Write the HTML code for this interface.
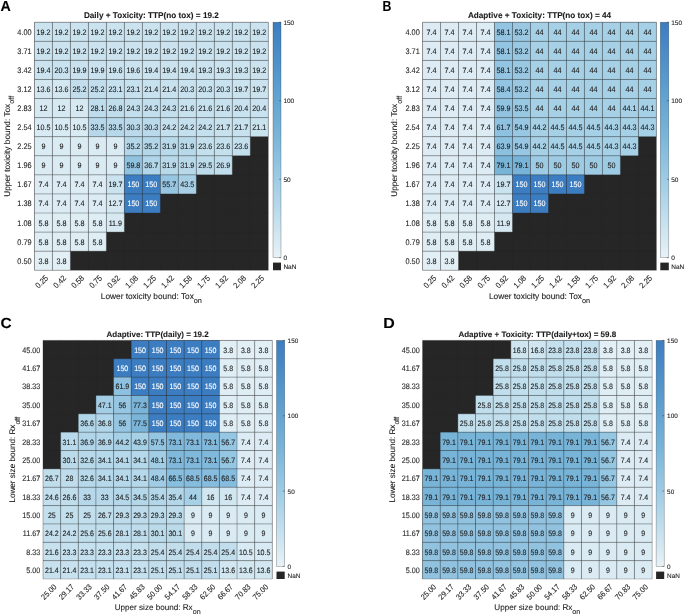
<!DOCTYPE html>
<html><head><meta charset="utf-8"><title>Heatmaps</title>
<style>html,body{margin:0;padding:0;background:#fff;}body{width:685px;height:615px;overflow:hidden;font-family:"Liberation Sans",sans-serif;}svg{display:block;will-change:transform;filter:blur(0.3px);}text{stroke-width:0.1px;}</style></head>
<body>
<svg width="685" height="615" viewBox="0 0 685 615" font-family="Liberation Sans, sans-serif" text-rendering="geometricPrecision">
<defs><linearGradient id="cb" x1="0" y1="0" x2="0" y2="1"><stop offset="0.000" stop-color="#3c7dc1"/><stop offset="0.250" stop-color="#579bce"/><stop offset="0.473" stop-color="#78b4d8"/><stop offset="0.601" stop-color="#91c3e1"/><stop offset="0.707" stop-color="#a6d0e6"/><stop offset="0.872" stop-color="#cbe3ef"/><stop offset="1.000" stop-color="#e8f2f7"/></linearGradient></defs>
<text transform="translate(0.6,11) scale(0.98,1)" font-size="14.6" font-weight="bold" fill="#000" stroke="#000">A</text>
<text x="151.37" y="18.43" font-size="8.2" font-weight="bold" fill="#1c1c1c" stroke="#1c1c1c" text-anchor="middle">Daily + Toxicity: TTP(no tox) = 19.2</text>
<rect x="34.44" y="22.23" width="233.86" height="248.02" fill="#262626"/>
<rect x="34.44" y="22.23" width="17.99" height="19.08" fill="#cbe3ef"/>
<rect x="52.43" y="22.23" width="17.99" height="19.08" fill="#cbe3ef"/>
<rect x="70.42" y="22.23" width="17.99" height="19.08" fill="#cbe3ef"/>
<rect x="88.41" y="22.23" width="17.99" height="19.08" fill="#cbe3ef"/>
<rect x="106.40" y="22.23" width="17.99" height="19.08" fill="#cbe3ef"/>
<rect x="124.39" y="22.23" width="17.99" height="19.08" fill="#cbe3ef"/>
<rect x="142.38" y="22.23" width="17.99" height="19.08" fill="#cbe3ef"/>
<rect x="160.36" y="22.23" width="17.99" height="19.08" fill="#cbe3ef"/>
<rect x="178.35" y="22.23" width="17.99" height="19.08" fill="#cbe3ef"/>
<rect x="196.34" y="22.23" width="17.99" height="19.08" fill="#cbe3ef"/>
<rect x="214.33" y="22.23" width="17.99" height="19.08" fill="#cbe3ef"/>
<rect x="232.32" y="22.23" width="17.99" height="19.08" fill="#cbe3ef"/>
<rect x="250.31" y="22.23" width="17.99" height="19.08" fill="#cbe3ef"/>
<rect x="34.44" y="41.31" width="17.99" height="19.08" fill="#cbe3ef"/>
<rect x="52.43" y="41.31" width="17.99" height="19.08" fill="#cbe3ef"/>
<rect x="70.42" y="41.31" width="17.99" height="19.08" fill="#cbe3ef"/>
<rect x="88.41" y="41.31" width="17.99" height="19.08" fill="#cbe3ef"/>
<rect x="106.40" y="41.31" width="17.99" height="19.08" fill="#cbe3ef"/>
<rect x="124.39" y="41.31" width="17.99" height="19.08" fill="#cbe3ef"/>
<rect x="142.38" y="41.31" width="17.99" height="19.08" fill="#cbe3ef"/>
<rect x="160.36" y="41.31" width="17.99" height="19.08" fill="#cbe3ef"/>
<rect x="178.35" y="41.31" width="17.99" height="19.08" fill="#cbe3ef"/>
<rect x="196.34" y="41.31" width="17.99" height="19.08" fill="#cbe3ef"/>
<rect x="214.33" y="41.31" width="17.99" height="19.08" fill="#cbe3ef"/>
<rect x="232.32" y="41.31" width="17.99" height="19.08" fill="#cbe3ef"/>
<rect x="250.31" y="41.31" width="17.99" height="19.08" fill="#cbe3ef"/>
<rect x="34.44" y="60.39" width="17.99" height="19.08" fill="#cbe3ef"/>
<rect x="52.43" y="60.39" width="17.99" height="19.08" fill="#c9e2ef"/>
<rect x="70.42" y="60.39" width="17.99" height="19.08" fill="#cae2ef"/>
<rect x="88.41" y="60.39" width="17.99" height="19.08" fill="#cae2ef"/>
<rect x="106.40" y="60.39" width="17.99" height="19.08" fill="#cae3ef"/>
<rect x="124.39" y="60.39" width="17.99" height="19.08" fill="#cae3ef"/>
<rect x="142.38" y="60.39" width="17.99" height="19.08" fill="#cbe3ef"/>
<rect x="160.36" y="60.39" width="17.99" height="19.08" fill="#cbe3ef"/>
<rect x="178.35" y="60.39" width="17.99" height="19.08" fill="#cbe3ef"/>
<rect x="196.34" y="60.39" width="17.99" height="19.08" fill="#cbe3ef"/>
<rect x="214.33" y="60.39" width="17.99" height="19.08" fill="#cbe3ef"/>
<rect x="232.32" y="60.39" width="17.99" height="19.08" fill="#cbe3ef"/>
<rect x="250.31" y="60.39" width="17.99" height="19.08" fill="#cbe3ef"/>
<rect x="34.44" y="79.47" width="17.99" height="19.08" fill="#d3e7f1"/>
<rect x="52.43" y="79.47" width="17.99" height="19.08" fill="#d3e7f1"/>
<rect x="70.42" y="79.47" width="17.99" height="19.08" fill="#c2deed"/>
<rect x="88.41" y="79.47" width="17.99" height="19.08" fill="#c2deed"/>
<rect x="106.40" y="79.47" width="17.99" height="19.08" fill="#c5e0ee"/>
<rect x="124.39" y="79.47" width="17.99" height="19.08" fill="#c5e0ee"/>
<rect x="142.38" y="79.47" width="17.99" height="19.08" fill="#c8e1ee"/>
<rect x="160.36" y="79.47" width="17.99" height="19.08" fill="#c8e1ee"/>
<rect x="178.35" y="79.47" width="17.99" height="19.08" fill="#c9e2ef"/>
<rect x="196.34" y="79.47" width="17.99" height="19.08" fill="#c9e2ef"/>
<rect x="214.33" y="79.47" width="17.99" height="19.08" fill="#c9e2ef"/>
<rect x="232.32" y="79.47" width="17.99" height="19.08" fill="#cae3ef"/>
<rect x="250.31" y="79.47" width="17.99" height="19.08" fill="#cae3ef"/>
<rect x="34.44" y="98.54" width="17.99" height="19.08" fill="#d6e9f2"/>
<rect x="52.43" y="98.54" width="17.99" height="19.08" fill="#d6e9f2"/>
<rect x="70.42" y="98.54" width="17.99" height="19.08" fill="#d6e9f2"/>
<rect x="88.41" y="98.54" width="17.99" height="19.08" fill="#bedcec"/>
<rect x="106.40" y="98.54" width="17.99" height="19.08" fill="#c0ddec"/>
<rect x="124.39" y="98.54" width="17.99" height="19.08" fill="#c3dfed"/>
<rect x="142.38" y="98.54" width="17.99" height="19.08" fill="#c3dfed"/>
<rect x="160.36" y="98.54" width="17.99" height="19.08" fill="#c3dfed"/>
<rect x="178.35" y="98.54" width="17.99" height="19.08" fill="#c7e1ee"/>
<rect x="196.34" y="98.54" width="17.99" height="19.08" fill="#c7e1ee"/>
<rect x="214.33" y="98.54" width="17.99" height="19.08" fill="#c7e1ee"/>
<rect x="232.32" y="98.54" width="17.99" height="19.08" fill="#c9e2ef"/>
<rect x="250.31" y="98.54" width="17.99" height="19.08" fill="#c9e2ef"/>
<rect x="34.44" y="117.62" width="17.99" height="19.08" fill="#d8eaf3"/>
<rect x="52.43" y="117.62" width="17.99" height="19.08" fill="#d8eaf3"/>
<rect x="70.42" y="117.62" width="17.99" height="19.08" fill="#d8eaf3"/>
<rect x="88.41" y="117.62" width="17.99" height="19.08" fill="#b6d8ea"/>
<rect x="106.40" y="117.62" width="17.99" height="19.08" fill="#b6d8ea"/>
<rect x="124.39" y="117.62" width="17.99" height="19.08" fill="#badaeb"/>
<rect x="142.38" y="117.62" width="17.99" height="19.08" fill="#badaeb"/>
<rect x="160.36" y="117.62" width="17.99" height="19.08" fill="#c4dfed"/>
<rect x="178.35" y="117.62" width="17.99" height="19.08" fill="#c4dfed"/>
<rect x="196.34" y="117.62" width="17.99" height="19.08" fill="#c4dfed"/>
<rect x="214.33" y="117.62" width="17.99" height="19.08" fill="#c7e1ee"/>
<rect x="232.32" y="117.62" width="17.99" height="19.08" fill="#c7e1ee"/>
<rect x="250.31" y="117.62" width="17.99" height="19.08" fill="#c8e2ee"/>
<rect x="34.44" y="136.70" width="17.99" height="19.08" fill="#daebf3"/>
<rect x="52.43" y="136.70" width="17.99" height="19.08" fill="#daebf3"/>
<rect x="70.42" y="136.70" width="17.99" height="19.08" fill="#daebf3"/>
<rect x="88.41" y="136.70" width="17.99" height="19.08" fill="#daebf3"/>
<rect x="106.40" y="136.70" width="17.99" height="19.08" fill="#daebf3"/>
<rect x="124.39" y="136.70" width="17.99" height="19.08" fill="#b3d7e9"/>
<rect x="142.38" y="136.70" width="17.99" height="19.08" fill="#b3d7e9"/>
<rect x="160.36" y="136.70" width="17.99" height="19.08" fill="#b8d9ea"/>
<rect x="178.35" y="136.70" width="17.99" height="19.08" fill="#b8d9ea"/>
<rect x="196.34" y="136.70" width="17.99" height="19.08" fill="#c4e0ed"/>
<rect x="214.33" y="136.70" width="17.99" height="19.08" fill="#c4e0ed"/>
<rect x="232.32" y="136.70" width="17.99" height="19.08" fill="#c4e0ed"/>
<rect x="34.44" y="155.78" width="17.99" height="19.08" fill="#daebf3"/>
<rect x="52.43" y="155.78" width="17.99" height="19.08" fill="#daebf3"/>
<rect x="70.42" y="155.78" width="17.99" height="19.08" fill="#daebf3"/>
<rect x="88.41" y="155.78" width="17.99" height="19.08" fill="#daebf3"/>
<rect x="106.40" y="155.78" width="17.99" height="19.08" fill="#daebf3"/>
<rect x="124.39" y="155.78" width="17.99" height="19.08" fill="#91c3e1"/>
<rect x="142.38" y="155.78" width="17.99" height="19.08" fill="#b1d6e9"/>
<rect x="160.36" y="155.78" width="17.99" height="19.08" fill="#b8d9ea"/>
<rect x="178.35" y="155.78" width="17.99" height="19.08" fill="#b8d9ea"/>
<rect x="196.34" y="155.78" width="17.99" height="19.08" fill="#bcdbeb"/>
<rect x="214.33" y="155.78" width="17.99" height="19.08" fill="#bfddec"/>
<rect x="34.44" y="174.86" width="17.99" height="19.08" fill="#ddecf4"/>
<rect x="52.43" y="174.86" width="17.99" height="19.08" fill="#ddecf4"/>
<rect x="70.42" y="174.86" width="17.99" height="19.08" fill="#ddecf4"/>
<rect x="88.41" y="174.86" width="17.99" height="19.08" fill="#ddecf4"/>
<rect x="106.40" y="174.86" width="17.99" height="19.08" fill="#cae3ef"/>
<rect x="124.39" y="174.86" width="17.99" height="19.08" fill="#3c7dc1"/>
<rect x="142.38" y="174.86" width="17.99" height="19.08" fill="#3c7dc1"/>
<rect x="160.36" y="174.86" width="17.99" height="19.08" fill="#96c6e2"/>
<rect x="178.35" y="174.86" width="17.99" height="19.08" fill="#a7d0e6"/>
<rect x="34.44" y="193.94" width="17.99" height="19.08" fill="#ddecf4"/>
<rect x="52.43" y="193.94" width="17.99" height="19.08" fill="#ddecf4"/>
<rect x="70.42" y="193.94" width="17.99" height="19.08" fill="#ddecf4"/>
<rect x="88.41" y="193.94" width="17.99" height="19.08" fill="#ddecf4"/>
<rect x="106.40" y="193.94" width="17.99" height="19.08" fill="#d5e8f2"/>
<rect x="124.39" y="193.94" width="17.99" height="19.08" fill="#3c7dc1"/>
<rect x="142.38" y="193.94" width="17.99" height="19.08" fill="#3c7dc1"/>
<rect x="34.44" y="213.01" width="17.99" height="19.08" fill="#dfedf5"/>
<rect x="52.43" y="213.01" width="17.99" height="19.08" fill="#dfedf5"/>
<rect x="70.42" y="213.01" width="17.99" height="19.08" fill="#dfedf5"/>
<rect x="88.41" y="213.01" width="17.99" height="19.08" fill="#dfedf5"/>
<rect x="106.40" y="213.01" width="17.99" height="19.08" fill="#d6e9f2"/>
<rect x="34.44" y="232.09" width="17.99" height="19.08" fill="#dfedf5"/>
<rect x="52.43" y="232.09" width="17.99" height="19.08" fill="#dfedf5"/>
<rect x="70.42" y="232.09" width="17.99" height="19.08" fill="#dfedf5"/>
<rect x="88.41" y="232.09" width="17.99" height="19.08" fill="#dfedf5"/>
<rect x="34.44" y="251.17" width="17.99" height="19.08" fill="#e2eff5"/>
<rect x="52.43" y="251.17" width="17.99" height="19.08" fill="#e2eff5"/>
<line x1="34.44" x2="34.44" y1="22.23" y2="270.25" stroke="rgba(38,38,38,0.55)" stroke-width="0.6"/>
<line x1="34.44" x2="268.30" y1="22.23" y2="22.23" stroke="rgba(38,38,38,0.55)" stroke-width="0.6"/>
<line x1="52.43" x2="52.43" y1="22.23" y2="270.25" stroke="rgba(38,38,38,0.55)" stroke-width="0.6"/>
<line x1="34.44" x2="268.30" y1="41.31" y2="41.31" stroke="rgba(38,38,38,0.55)" stroke-width="0.6"/>
<line x1="70.42" x2="70.42" y1="22.23" y2="270.25" stroke="rgba(38,38,38,0.55)" stroke-width="0.6"/>
<line x1="34.44" x2="268.30" y1="60.39" y2="60.39" stroke="rgba(38,38,38,0.55)" stroke-width="0.6"/>
<line x1="88.41" x2="88.41" y1="22.23" y2="270.25" stroke="rgba(38,38,38,0.55)" stroke-width="0.6"/>
<line x1="34.44" x2="268.30" y1="79.47" y2="79.47" stroke="rgba(38,38,38,0.55)" stroke-width="0.6"/>
<line x1="106.40" x2="106.40" y1="22.23" y2="270.25" stroke="rgba(38,38,38,0.55)" stroke-width="0.6"/>
<line x1="34.44" x2="268.30" y1="98.54" y2="98.54" stroke="rgba(38,38,38,0.55)" stroke-width="0.6"/>
<line x1="124.39" x2="124.39" y1="22.23" y2="270.25" stroke="rgba(38,38,38,0.55)" stroke-width="0.6"/>
<line x1="34.44" x2="268.30" y1="117.62" y2="117.62" stroke="rgba(38,38,38,0.55)" stroke-width="0.6"/>
<line x1="142.38" x2="142.38" y1="22.23" y2="270.25" stroke="rgba(38,38,38,0.55)" stroke-width="0.6"/>
<line x1="34.44" x2="268.30" y1="136.70" y2="136.70" stroke="rgba(38,38,38,0.55)" stroke-width="0.6"/>
<line x1="160.36" x2="160.36" y1="22.23" y2="270.25" stroke="rgba(38,38,38,0.55)" stroke-width="0.6"/>
<line x1="34.44" x2="268.30" y1="155.78" y2="155.78" stroke="rgba(38,38,38,0.55)" stroke-width="0.6"/>
<line x1="178.35" x2="178.35" y1="22.23" y2="270.25" stroke="rgba(38,38,38,0.55)" stroke-width="0.6"/>
<line x1="34.44" x2="268.30" y1="174.86" y2="174.86" stroke="rgba(38,38,38,0.55)" stroke-width="0.6"/>
<line x1="196.34" x2="196.34" y1="22.23" y2="270.25" stroke="rgba(38,38,38,0.55)" stroke-width="0.6"/>
<line x1="34.44" x2="268.30" y1="193.94" y2="193.94" stroke="rgba(38,38,38,0.55)" stroke-width="0.6"/>
<line x1="214.33" x2="214.33" y1="22.23" y2="270.25" stroke="rgba(38,38,38,0.55)" stroke-width="0.6"/>
<line x1="34.44" x2="268.30" y1="213.01" y2="213.01" stroke="rgba(38,38,38,0.55)" stroke-width="0.6"/>
<line x1="232.32" x2="232.32" y1="22.23" y2="270.25" stroke="rgba(38,38,38,0.55)" stroke-width="0.6"/>
<line x1="34.44" x2="268.30" y1="232.09" y2="232.09" stroke="rgba(38,38,38,0.55)" stroke-width="0.6"/>
<line x1="250.31" x2="250.31" y1="22.23" y2="270.25" stroke="rgba(38,38,38,0.55)" stroke-width="0.6"/>
<line x1="34.44" x2="268.30" y1="251.17" y2="251.17" stroke="rgba(38,38,38,0.55)" stroke-width="0.6"/>
<line x1="268.30" x2="268.30" y1="22.23" y2="270.25" stroke="rgba(38,38,38,0.42)" stroke-width="0.6"/>
<line x1="34.44" x2="268.30" y1="270.25" y2="270.25" stroke="rgba(38,38,38,0.42)" stroke-width="0.6"/>
<text transform="translate(43.43,34.77) scale(1,1.1)" font-size="7.2" fill="#1c1c1c" stroke="#1c1c1c" text-anchor="middle">19.2</text>
<text transform="translate(61.42,34.77) scale(1,1.1)" font-size="7.2" fill="#1c1c1c" stroke="#1c1c1c" text-anchor="middle">19.2</text>
<text transform="translate(79.41,34.77) scale(1,1.1)" font-size="7.2" fill="#1c1c1c" stroke="#1c1c1c" text-anchor="middle">19.2</text>
<text transform="translate(97.40,34.77) scale(1,1.1)" font-size="7.2" fill="#1c1c1c" stroke="#1c1c1c" text-anchor="middle">19.2</text>
<text transform="translate(115.39,34.77) scale(1,1.1)" font-size="7.2" fill="#1c1c1c" stroke="#1c1c1c" text-anchor="middle">19.2</text>
<text transform="translate(133.38,34.77) scale(1,1.1)" font-size="7.2" fill="#1c1c1c" stroke="#1c1c1c" text-anchor="middle">19.2</text>
<text transform="translate(151.37,34.77) scale(1,1.1)" font-size="7.2" fill="#1c1c1c" stroke="#1c1c1c" text-anchor="middle">19.2</text>
<text transform="translate(169.36,34.77) scale(1,1.1)" font-size="7.2" fill="#1c1c1c" stroke="#1c1c1c" text-anchor="middle">19.2</text>
<text transform="translate(187.35,34.77) scale(1,1.1)" font-size="7.2" fill="#1c1c1c" stroke="#1c1c1c" text-anchor="middle">19.2</text>
<text transform="translate(205.34,34.77) scale(1,1.1)" font-size="7.2" fill="#1c1c1c" stroke="#1c1c1c" text-anchor="middle">19.2</text>
<text transform="translate(223.33,34.77) scale(1,1.1)" font-size="7.2" fill="#1c1c1c" stroke="#1c1c1c" text-anchor="middle">19.2</text>
<text transform="translate(241.32,34.77) scale(1,1.1)" font-size="7.2" fill="#1c1c1c" stroke="#1c1c1c" text-anchor="middle">19.2</text>
<text transform="translate(259.31,34.77) scale(1,1.1)" font-size="7.2" fill="#1c1c1c" stroke="#1c1c1c" text-anchor="middle">19.2</text>
<text transform="translate(43.43,53.85) scale(1,1.1)" font-size="7.2" fill="#1c1c1c" stroke="#1c1c1c" text-anchor="middle">19.2</text>
<text transform="translate(61.42,53.85) scale(1,1.1)" font-size="7.2" fill="#1c1c1c" stroke="#1c1c1c" text-anchor="middle">19.2</text>
<text transform="translate(79.41,53.85) scale(1,1.1)" font-size="7.2" fill="#1c1c1c" stroke="#1c1c1c" text-anchor="middle">19.2</text>
<text transform="translate(97.40,53.85) scale(1,1.1)" font-size="7.2" fill="#1c1c1c" stroke="#1c1c1c" text-anchor="middle">19.2</text>
<text transform="translate(115.39,53.85) scale(1,1.1)" font-size="7.2" fill="#1c1c1c" stroke="#1c1c1c" text-anchor="middle">19.2</text>
<text transform="translate(133.38,53.85) scale(1,1.1)" font-size="7.2" fill="#1c1c1c" stroke="#1c1c1c" text-anchor="middle">19.2</text>
<text transform="translate(151.37,53.85) scale(1,1.1)" font-size="7.2" fill="#1c1c1c" stroke="#1c1c1c" text-anchor="middle">19.2</text>
<text transform="translate(169.36,53.85) scale(1,1.1)" font-size="7.2" fill="#1c1c1c" stroke="#1c1c1c" text-anchor="middle">19.2</text>
<text transform="translate(187.35,53.85) scale(1,1.1)" font-size="7.2" fill="#1c1c1c" stroke="#1c1c1c" text-anchor="middle">19.2</text>
<text transform="translate(205.34,53.85) scale(1,1.1)" font-size="7.2" fill="#1c1c1c" stroke="#1c1c1c" text-anchor="middle">19.2</text>
<text transform="translate(223.33,53.85) scale(1,1.1)" font-size="7.2" fill="#1c1c1c" stroke="#1c1c1c" text-anchor="middle">19.2</text>
<text transform="translate(241.32,53.85) scale(1,1.1)" font-size="7.2" fill="#1c1c1c" stroke="#1c1c1c" text-anchor="middle">19.2</text>
<text transform="translate(259.31,53.85) scale(1,1.1)" font-size="7.2" fill="#1c1c1c" stroke="#1c1c1c" text-anchor="middle">19.2</text>
<text transform="translate(43.43,72.93) scale(1,1.1)" font-size="7.2" fill="#1c1c1c" stroke="#1c1c1c" text-anchor="middle">19.4</text>
<text transform="translate(61.42,72.93) scale(1,1.1)" font-size="7.2" fill="#1c1c1c" stroke="#1c1c1c" text-anchor="middle">20.3</text>
<text transform="translate(79.41,72.93) scale(1,1.1)" font-size="7.2" fill="#1c1c1c" stroke="#1c1c1c" text-anchor="middle">19.9</text>
<text transform="translate(97.40,72.93) scale(1,1.1)" font-size="7.2" fill="#1c1c1c" stroke="#1c1c1c" text-anchor="middle">19.9</text>
<text transform="translate(115.39,72.93) scale(1,1.1)" font-size="7.2" fill="#1c1c1c" stroke="#1c1c1c" text-anchor="middle">19.6</text>
<text transform="translate(133.38,72.93) scale(1,1.1)" font-size="7.2" fill="#1c1c1c" stroke="#1c1c1c" text-anchor="middle">19.6</text>
<text transform="translate(151.37,72.93) scale(1,1.1)" font-size="7.2" fill="#1c1c1c" stroke="#1c1c1c" text-anchor="middle">19.4</text>
<text transform="translate(169.36,72.93) scale(1,1.1)" font-size="7.2" fill="#1c1c1c" stroke="#1c1c1c" text-anchor="middle">19.4</text>
<text transform="translate(187.35,72.93) scale(1,1.1)" font-size="7.2" fill="#1c1c1c" stroke="#1c1c1c" text-anchor="middle">19.4</text>
<text transform="translate(205.34,72.93) scale(1,1.1)" font-size="7.2" fill="#1c1c1c" stroke="#1c1c1c" text-anchor="middle">19.3</text>
<text transform="translate(223.33,72.93) scale(1,1.1)" font-size="7.2" fill="#1c1c1c" stroke="#1c1c1c" text-anchor="middle">19.3</text>
<text transform="translate(241.32,72.93) scale(1,1.1)" font-size="7.2" fill="#1c1c1c" stroke="#1c1c1c" text-anchor="middle">19.3</text>
<text transform="translate(259.31,72.93) scale(1,1.1)" font-size="7.2" fill="#1c1c1c" stroke="#1c1c1c" text-anchor="middle">19.2</text>
<text transform="translate(43.43,92.00) scale(1,1.1)" font-size="7.2" fill="#1c1c1c" stroke="#1c1c1c" text-anchor="middle">13.6</text>
<text transform="translate(61.42,92.00) scale(1,1.1)" font-size="7.2" fill="#1c1c1c" stroke="#1c1c1c" text-anchor="middle">13.6</text>
<text transform="translate(79.41,92.00) scale(1,1.1)" font-size="7.2" fill="#1c1c1c" stroke="#1c1c1c" text-anchor="middle">25.2</text>
<text transform="translate(97.40,92.00) scale(1,1.1)" font-size="7.2" fill="#1c1c1c" stroke="#1c1c1c" text-anchor="middle">25.2</text>
<text transform="translate(115.39,92.00) scale(1,1.1)" font-size="7.2" fill="#1c1c1c" stroke="#1c1c1c" text-anchor="middle">23.1</text>
<text transform="translate(133.38,92.00) scale(1,1.1)" font-size="7.2" fill="#1c1c1c" stroke="#1c1c1c" text-anchor="middle">23.1</text>
<text transform="translate(151.37,92.00) scale(1,1.1)" font-size="7.2" fill="#1c1c1c" stroke="#1c1c1c" text-anchor="middle">21.4</text>
<text transform="translate(169.36,92.00) scale(1,1.1)" font-size="7.2" fill="#1c1c1c" stroke="#1c1c1c" text-anchor="middle">21.4</text>
<text transform="translate(187.35,92.00) scale(1,1.1)" font-size="7.2" fill="#1c1c1c" stroke="#1c1c1c" text-anchor="middle">20.3</text>
<text transform="translate(205.34,92.00) scale(1,1.1)" font-size="7.2" fill="#1c1c1c" stroke="#1c1c1c" text-anchor="middle">20.3</text>
<text transform="translate(223.33,92.00) scale(1,1.1)" font-size="7.2" fill="#1c1c1c" stroke="#1c1c1c" text-anchor="middle">20.3</text>
<text transform="translate(241.32,92.00) scale(1,1.1)" font-size="7.2" fill="#1c1c1c" stroke="#1c1c1c" text-anchor="middle">19.7</text>
<text transform="translate(259.31,92.00) scale(1,1.1)" font-size="7.2" fill="#1c1c1c" stroke="#1c1c1c" text-anchor="middle">19.7</text>
<text transform="translate(43.43,111.08) scale(1,1.1)" font-size="7.2" fill="#1c1c1c" stroke="#1c1c1c" text-anchor="middle">12</text>
<text transform="translate(61.42,111.08) scale(1,1.1)" font-size="7.2" fill="#1c1c1c" stroke="#1c1c1c" text-anchor="middle">12</text>
<text transform="translate(79.41,111.08) scale(1,1.1)" font-size="7.2" fill="#1c1c1c" stroke="#1c1c1c" text-anchor="middle">12</text>
<text transform="translate(97.40,111.08) scale(1,1.1)" font-size="7.2" fill="#1c1c1c" stroke="#1c1c1c" text-anchor="middle">28.1</text>
<text transform="translate(115.39,111.08) scale(1,1.1)" font-size="7.2" fill="#1c1c1c" stroke="#1c1c1c" text-anchor="middle">26.8</text>
<text transform="translate(133.38,111.08) scale(1,1.1)" font-size="7.2" fill="#1c1c1c" stroke="#1c1c1c" text-anchor="middle">24.3</text>
<text transform="translate(151.37,111.08) scale(1,1.1)" font-size="7.2" fill="#1c1c1c" stroke="#1c1c1c" text-anchor="middle">24.3</text>
<text transform="translate(169.36,111.08) scale(1,1.1)" font-size="7.2" fill="#1c1c1c" stroke="#1c1c1c" text-anchor="middle">24.3</text>
<text transform="translate(187.35,111.08) scale(1,1.1)" font-size="7.2" fill="#1c1c1c" stroke="#1c1c1c" text-anchor="middle">21.6</text>
<text transform="translate(205.34,111.08) scale(1,1.1)" font-size="7.2" fill="#1c1c1c" stroke="#1c1c1c" text-anchor="middle">21.6</text>
<text transform="translate(223.33,111.08) scale(1,1.1)" font-size="7.2" fill="#1c1c1c" stroke="#1c1c1c" text-anchor="middle">21.6</text>
<text transform="translate(241.32,111.08) scale(1,1.1)" font-size="7.2" fill="#1c1c1c" stroke="#1c1c1c" text-anchor="middle">20.4</text>
<text transform="translate(259.31,111.08) scale(1,1.1)" font-size="7.2" fill="#1c1c1c" stroke="#1c1c1c" text-anchor="middle">20.4</text>
<text transform="translate(43.43,130.16) scale(1,1.1)" font-size="7.2" fill="#1c1c1c" stroke="#1c1c1c" text-anchor="middle">10.5</text>
<text transform="translate(61.42,130.16) scale(1,1.1)" font-size="7.2" fill="#1c1c1c" stroke="#1c1c1c" text-anchor="middle">10.5</text>
<text transform="translate(79.41,130.16) scale(1,1.1)" font-size="7.2" fill="#1c1c1c" stroke="#1c1c1c" text-anchor="middle">10.5</text>
<text transform="translate(97.40,130.16) scale(1,1.1)" font-size="7.2" fill="#1c1c1c" stroke="#1c1c1c" text-anchor="middle">33.5</text>
<text transform="translate(115.39,130.16) scale(1,1.1)" font-size="7.2" fill="#1c1c1c" stroke="#1c1c1c" text-anchor="middle">33.5</text>
<text transform="translate(133.38,130.16) scale(1,1.1)" font-size="7.2" fill="#1c1c1c" stroke="#1c1c1c" text-anchor="middle">30.3</text>
<text transform="translate(151.37,130.16) scale(1,1.1)" font-size="7.2" fill="#1c1c1c" stroke="#1c1c1c" text-anchor="middle">30.3</text>
<text transform="translate(169.36,130.16) scale(1,1.1)" font-size="7.2" fill="#1c1c1c" stroke="#1c1c1c" text-anchor="middle">24.2</text>
<text transform="translate(187.35,130.16) scale(1,1.1)" font-size="7.2" fill="#1c1c1c" stroke="#1c1c1c" text-anchor="middle">24.2</text>
<text transform="translate(205.34,130.16) scale(1,1.1)" font-size="7.2" fill="#1c1c1c" stroke="#1c1c1c" text-anchor="middle">24.2</text>
<text transform="translate(223.33,130.16) scale(1,1.1)" font-size="7.2" fill="#1c1c1c" stroke="#1c1c1c" text-anchor="middle">21.7</text>
<text transform="translate(241.32,130.16) scale(1,1.1)" font-size="7.2" fill="#1c1c1c" stroke="#1c1c1c" text-anchor="middle">21.7</text>
<text transform="translate(259.31,130.16) scale(1,1.1)" font-size="7.2" fill="#1c1c1c" stroke="#1c1c1c" text-anchor="middle">21.1</text>
<text transform="translate(43.43,149.24) scale(1,1.1)" font-size="7.2" fill="#1c1c1c" stroke="#1c1c1c" text-anchor="middle">9</text>
<text transform="translate(61.42,149.24) scale(1,1.1)" font-size="7.2" fill="#1c1c1c" stroke="#1c1c1c" text-anchor="middle">9</text>
<text transform="translate(79.41,149.24) scale(1,1.1)" font-size="7.2" fill="#1c1c1c" stroke="#1c1c1c" text-anchor="middle">9</text>
<text transform="translate(97.40,149.24) scale(1,1.1)" font-size="7.2" fill="#1c1c1c" stroke="#1c1c1c" text-anchor="middle">9</text>
<text transform="translate(115.39,149.24) scale(1,1.1)" font-size="7.2" fill="#1c1c1c" stroke="#1c1c1c" text-anchor="middle">9</text>
<text transform="translate(133.38,149.24) scale(1,1.1)" font-size="7.2" fill="#1c1c1c" stroke="#1c1c1c" text-anchor="middle">35.2</text>
<text transform="translate(151.37,149.24) scale(1,1.1)" font-size="7.2" fill="#1c1c1c" stroke="#1c1c1c" text-anchor="middle">35.2</text>
<text transform="translate(169.36,149.24) scale(1,1.1)" font-size="7.2" fill="#1c1c1c" stroke="#1c1c1c" text-anchor="middle">31.9</text>
<text transform="translate(187.35,149.24) scale(1,1.1)" font-size="7.2" fill="#1c1c1c" stroke="#1c1c1c" text-anchor="middle">31.9</text>
<text transform="translate(205.34,149.24) scale(1,1.1)" font-size="7.2" fill="#1c1c1c" stroke="#1c1c1c" text-anchor="middle">23.6</text>
<text transform="translate(223.33,149.24) scale(1,1.1)" font-size="7.2" fill="#1c1c1c" stroke="#1c1c1c" text-anchor="middle">23.6</text>
<text transform="translate(241.32,149.24) scale(1,1.1)" font-size="7.2" fill="#1c1c1c" stroke="#1c1c1c" text-anchor="middle">23.6</text>
<text transform="translate(43.43,168.32) scale(1,1.1)" font-size="7.2" fill="#1c1c1c" stroke="#1c1c1c" text-anchor="middle">9</text>
<text transform="translate(61.42,168.32) scale(1,1.1)" font-size="7.2" fill="#1c1c1c" stroke="#1c1c1c" text-anchor="middle">9</text>
<text transform="translate(79.41,168.32) scale(1,1.1)" font-size="7.2" fill="#1c1c1c" stroke="#1c1c1c" text-anchor="middle">9</text>
<text transform="translate(97.40,168.32) scale(1,1.1)" font-size="7.2" fill="#1c1c1c" stroke="#1c1c1c" text-anchor="middle">9</text>
<text transform="translate(115.39,168.32) scale(1,1.1)" font-size="7.2" fill="#1c1c1c" stroke="#1c1c1c" text-anchor="middle">9</text>
<text transform="translate(133.38,168.32) scale(1,1.1)" font-size="7.2" fill="#1c1c1c" stroke="#1c1c1c" text-anchor="middle">59.8</text>
<text transform="translate(151.37,168.32) scale(1,1.1)" font-size="7.2" fill="#1c1c1c" stroke="#1c1c1c" text-anchor="middle">36.7</text>
<text transform="translate(169.36,168.32) scale(1,1.1)" font-size="7.2" fill="#1c1c1c" stroke="#1c1c1c" text-anchor="middle">31.9</text>
<text transform="translate(187.35,168.32) scale(1,1.1)" font-size="7.2" fill="#1c1c1c" stroke="#1c1c1c" text-anchor="middle">31.9</text>
<text transform="translate(205.34,168.32) scale(1,1.1)" font-size="7.2" fill="#1c1c1c" stroke="#1c1c1c" text-anchor="middle">29.5</text>
<text transform="translate(223.33,168.32) scale(1,1.1)" font-size="7.2" fill="#1c1c1c" stroke="#1c1c1c" text-anchor="middle">26.9</text>
<text transform="translate(43.43,187.40) scale(1,1.1)" font-size="7.2" fill="#1c1c1c" stroke="#1c1c1c" text-anchor="middle">7.4</text>
<text transform="translate(61.42,187.40) scale(1,1.1)" font-size="7.2" fill="#1c1c1c" stroke="#1c1c1c" text-anchor="middle">7.4</text>
<text transform="translate(79.41,187.40) scale(1,1.1)" font-size="7.2" fill="#1c1c1c" stroke="#1c1c1c" text-anchor="middle">7.4</text>
<text transform="translate(97.40,187.40) scale(1,1.1)" font-size="7.2" fill="#1c1c1c" stroke="#1c1c1c" text-anchor="middle">7.4</text>
<text transform="translate(115.39,187.40) scale(1,1.1)" font-size="7.2" fill="#1c1c1c" stroke="#1c1c1c" text-anchor="middle">19.7</text>
<text transform="translate(133.38,187.40) scale(1,1.1)" font-size="7.2" fill="#ffffff" stroke="#ffffff" text-anchor="middle">150</text>
<text transform="translate(151.37,187.40) scale(1,1.1)" font-size="7.2" fill="#ffffff" stroke="#ffffff" text-anchor="middle">150</text>
<text transform="translate(169.36,187.40) scale(1,1.1)" font-size="7.2" fill="#1c1c1c" stroke="#1c1c1c" text-anchor="middle">55.7</text>
<text transform="translate(187.35,187.40) scale(1,1.1)" font-size="7.2" fill="#1c1c1c" stroke="#1c1c1c" text-anchor="middle">43.5</text>
<text transform="translate(43.43,206.48) scale(1,1.1)" font-size="7.2" fill="#1c1c1c" stroke="#1c1c1c" text-anchor="middle">7.4</text>
<text transform="translate(61.42,206.48) scale(1,1.1)" font-size="7.2" fill="#1c1c1c" stroke="#1c1c1c" text-anchor="middle">7.4</text>
<text transform="translate(79.41,206.48) scale(1,1.1)" font-size="7.2" fill="#1c1c1c" stroke="#1c1c1c" text-anchor="middle">7.4</text>
<text transform="translate(97.40,206.48) scale(1,1.1)" font-size="7.2" fill="#1c1c1c" stroke="#1c1c1c" text-anchor="middle">7.4</text>
<text transform="translate(115.39,206.48) scale(1,1.1)" font-size="7.2" fill="#1c1c1c" stroke="#1c1c1c" text-anchor="middle">12.7</text>
<text transform="translate(133.38,206.48) scale(1,1.1)" font-size="7.2" fill="#ffffff" stroke="#ffffff" text-anchor="middle">150</text>
<text transform="translate(151.37,206.48) scale(1,1.1)" font-size="7.2" fill="#ffffff" stroke="#ffffff" text-anchor="middle">150</text>
<text transform="translate(43.43,225.55) scale(1,1.1)" font-size="7.2" fill="#1c1c1c" stroke="#1c1c1c" text-anchor="middle">5.8</text>
<text transform="translate(61.42,225.55) scale(1,1.1)" font-size="7.2" fill="#1c1c1c" stroke="#1c1c1c" text-anchor="middle">5.8</text>
<text transform="translate(79.41,225.55) scale(1,1.1)" font-size="7.2" fill="#1c1c1c" stroke="#1c1c1c" text-anchor="middle">5.8</text>
<text transform="translate(97.40,225.55) scale(1,1.1)" font-size="7.2" fill="#1c1c1c" stroke="#1c1c1c" text-anchor="middle">5.8</text>
<text transform="translate(115.39,225.55) scale(1,1.1)" font-size="7.2" fill="#1c1c1c" stroke="#1c1c1c" text-anchor="middle">11.9</text>
<text transform="translate(43.43,244.63) scale(1,1.1)" font-size="7.2" fill="#1c1c1c" stroke="#1c1c1c" text-anchor="middle">5.8</text>
<text transform="translate(61.42,244.63) scale(1,1.1)" font-size="7.2" fill="#1c1c1c" stroke="#1c1c1c" text-anchor="middle">5.8</text>
<text transform="translate(79.41,244.63) scale(1,1.1)" font-size="7.2" fill="#1c1c1c" stroke="#1c1c1c" text-anchor="middle">5.8</text>
<text transform="translate(97.40,244.63) scale(1,1.1)" font-size="7.2" fill="#1c1c1c" stroke="#1c1c1c" text-anchor="middle">5.8</text>
<text transform="translate(43.43,263.71) scale(1,1.1)" font-size="7.2" fill="#1c1c1c" stroke="#1c1c1c" text-anchor="middle">3.8</text>
<text transform="translate(61.42,263.71) scale(1,1.1)" font-size="7.2" fill="#1c1c1c" stroke="#1c1c1c" text-anchor="middle">3.8</text>
<text transform="translate(31.64,34.77) scale(1,1.1)" font-size="7.35" fill="#262626" stroke="#262626" text-anchor="end">4.00</text>
<text transform="translate(31.64,53.85) scale(1,1.1)" font-size="7.35" fill="#262626" stroke="#262626" text-anchor="end">3.71</text>
<text transform="translate(31.64,72.93) scale(1,1.1)" font-size="7.35" fill="#262626" stroke="#262626" text-anchor="end">3.42</text>
<text transform="translate(31.64,92.00) scale(1,1.1)" font-size="7.35" fill="#262626" stroke="#262626" text-anchor="end">3.12</text>
<text transform="translate(31.64,111.08) scale(1,1.1)" font-size="7.35" fill="#262626" stroke="#262626" text-anchor="end">2.83</text>
<text transform="translate(31.64,130.16) scale(1,1.1)" font-size="7.35" fill="#262626" stroke="#262626" text-anchor="end">2.54</text>
<text transform="translate(31.64,149.24) scale(1,1.1)" font-size="7.35" fill="#262626" stroke="#262626" text-anchor="end">2.25</text>
<text transform="translate(31.64,168.32) scale(1,1.1)" font-size="7.35" fill="#262626" stroke="#262626" text-anchor="end">1.96</text>
<text transform="translate(31.64,187.40) scale(1,1.1)" font-size="7.35" fill="#262626" stroke="#262626" text-anchor="end">1.67</text>
<text transform="translate(31.64,206.48) scale(1,1.1)" font-size="7.35" fill="#262626" stroke="#262626" text-anchor="end">1.38</text>
<text transform="translate(31.64,225.55) scale(1,1.1)" font-size="7.35" fill="#262626" stroke="#262626" text-anchor="end">1.08</text>
<text transform="translate(31.64,244.63) scale(1,1.1)" font-size="7.35" fill="#262626" stroke="#262626" text-anchor="end">0.79</text>
<text transform="translate(31.64,263.71) scale(1,1.1)" font-size="7.35" fill="#262626" stroke="#262626" text-anchor="end">0.50</text>
<text transform="translate(46.73,276.75) rotate(-45) scale(1,1.1)" font-size="7.35" fill="#262626" stroke="#262626" text-anchor="end" dominant-baseline="auto" dy="2.5">0.25</text>
<text transform="translate(64.72,276.75) rotate(-45) scale(1,1.1)" font-size="7.35" fill="#262626" stroke="#262626" text-anchor="end" dominant-baseline="auto" dy="2.5">0.42</text>
<text transform="translate(82.71,276.75) rotate(-45) scale(1,1.1)" font-size="7.35" fill="#262626" stroke="#262626" text-anchor="end" dominant-baseline="auto" dy="2.5">0.58</text>
<text transform="translate(100.70,276.75) rotate(-45) scale(1,1.1)" font-size="7.35" fill="#262626" stroke="#262626" text-anchor="end" dominant-baseline="auto" dy="2.5">0.75</text>
<text transform="translate(118.69,276.75) rotate(-45) scale(1,1.1)" font-size="7.35" fill="#262626" stroke="#262626" text-anchor="end" dominant-baseline="auto" dy="2.5">0.92</text>
<text transform="translate(136.68,276.75) rotate(-45) scale(1,1.1)" font-size="7.35" fill="#262626" stroke="#262626" text-anchor="end" dominant-baseline="auto" dy="2.5">1.08</text>
<text transform="translate(154.67,276.75) rotate(-45) scale(1,1.1)" font-size="7.35" fill="#262626" stroke="#262626" text-anchor="end" dominant-baseline="auto" dy="2.5">1.25</text>
<text transform="translate(172.66,276.75) rotate(-45) scale(1,1.1)" font-size="7.35" fill="#262626" stroke="#262626" text-anchor="end" dominant-baseline="auto" dy="2.5">1.42</text>
<text transform="translate(190.65,276.75) rotate(-45) scale(1,1.1)" font-size="7.35" fill="#262626" stroke="#262626" text-anchor="end" dominant-baseline="auto" dy="2.5">1.58</text>
<text transform="translate(208.64,276.75) rotate(-45) scale(1,1.1)" font-size="7.35" fill="#262626" stroke="#262626" text-anchor="end" dominant-baseline="auto" dy="2.5">1.75</text>
<text transform="translate(226.63,276.75) rotate(-45) scale(1,1.1)" font-size="7.35" fill="#262626" stroke="#262626" text-anchor="end" dominant-baseline="auto" dy="2.5">1.92</text>
<text transform="translate(244.62,276.75) rotate(-45) scale(1,1.1)" font-size="7.35" fill="#262626" stroke="#262626" text-anchor="end" dominant-baseline="auto" dy="2.5">2.08</text>
<text transform="translate(262.61,276.75) rotate(-45) scale(1,1.1)" font-size="7.35" fill="#262626" stroke="#262626" text-anchor="end" dominant-baseline="auto" dy="2.5">2.25</text>
<text x="151.37" y="298.70" font-size="8.3" fill="#1c1c1c" stroke="#1c1c1c" text-anchor="middle">Lower toxicity bound: Tox<tspan font-size="7.3" dy="4.6">on</tspan></text>
<text transform="translate(9.70,146.24) rotate(-90)" font-size="8.3" fill="#1c1c1c" stroke="#1c1c1c" text-anchor="middle">Upper toxicity bound: Tox<tspan font-size="7.3" dy="4.6">off</tspan></text>
<rect x="273.00" y="22.23" width="8.00" height="235.47" fill="url(#cb)" stroke="rgba(38,38,38,0.55)" stroke-width="0.5"/>
<rect x="273.00" y="262.60" width="8.00" height="7.65" fill="#262626"/>
<line x1="279.10" x2="281.00" y1="257.70" y2="257.70" stroke="rgba(38,38,38,0.8)" stroke-width="0.55"/>
<text x="283.40" y="260.40" font-size="6.5" fill="#1c1c1c" stroke="#1c1c1c">0</text>
<line x1="279.10" x2="281.00" y1="179.21" y2="179.21" stroke="rgba(38,38,38,0.8)" stroke-width="0.55"/>
<text x="283.40" y="181.91" font-size="6.5" fill="#1c1c1c" stroke="#1c1c1c">50</text>
<line x1="279.10" x2="281.00" y1="100.72" y2="100.72" stroke="rgba(38,38,38,0.8)" stroke-width="0.55"/>
<text x="283.40" y="103.42" font-size="6.5" fill="#1c1c1c" stroke="#1c1c1c">100</text>
<line x1="279.10" x2="281.00" y1="22.23" y2="22.23" stroke="rgba(38,38,38,0.8)" stroke-width="0.55"/>
<text x="283.40" y="24.93" font-size="6.5" fill="#1c1c1c" stroke="#1c1c1c">150</text>
<text x="283.40" y="269.23" font-size="6.5" fill="#1c1c1c" stroke="#1c1c1c">NaN</text>
<text transform="translate(382.5,11) scale(0.84,1)" font-size="14.6" font-weight="bold" fill="#000" stroke="#000">B</text>
<text x="539.48" y="18.43" font-size="8.2" font-weight="bold" fill="#1c1c1c" stroke="#1c1c1c" text-anchor="middle">Adaptive + Toxicity: TTP(no tox) = 44</text>
<rect x="422.55" y="22.23" width="233.85" height="248.02" fill="#262626"/>
<rect x="422.55" y="22.23" width="17.99" height="19.08" fill="#ddecf4"/>
<rect x="440.54" y="22.23" width="17.99" height="19.08" fill="#ddecf4"/>
<rect x="458.53" y="22.23" width="17.99" height="19.08" fill="#ddecf4"/>
<rect x="476.52" y="22.23" width="17.99" height="19.08" fill="#ddecf4"/>
<rect x="494.50" y="22.23" width="17.99" height="19.08" fill="#93c4e2"/>
<rect x="512.49" y="22.23" width="17.99" height="19.08" fill="#9ac8e3"/>
<rect x="530.48" y="22.23" width="17.99" height="19.08" fill="#a6d0e6"/>
<rect x="548.47" y="22.23" width="17.99" height="19.08" fill="#a6d0e6"/>
<rect x="566.46" y="22.23" width="17.99" height="19.08" fill="#a6d0e6"/>
<rect x="584.45" y="22.23" width="17.99" height="19.08" fill="#a6d0e6"/>
<rect x="602.43" y="22.23" width="17.99" height="19.08" fill="#a6d0e6"/>
<rect x="620.42" y="22.23" width="17.99" height="19.08" fill="#a6d0e6"/>
<rect x="638.41" y="22.23" width="17.99" height="19.08" fill="#a6d0e6"/>
<rect x="422.55" y="41.31" width="17.99" height="19.08" fill="#ddecf4"/>
<rect x="440.54" y="41.31" width="17.99" height="19.08" fill="#ddecf4"/>
<rect x="458.53" y="41.31" width="17.99" height="19.08" fill="#ddecf4"/>
<rect x="476.52" y="41.31" width="17.99" height="19.08" fill="#ddecf4"/>
<rect x="494.50" y="41.31" width="17.99" height="19.08" fill="#93c4e2"/>
<rect x="512.49" y="41.31" width="17.99" height="19.08" fill="#9ac8e3"/>
<rect x="530.48" y="41.31" width="17.99" height="19.08" fill="#a6d0e6"/>
<rect x="548.47" y="41.31" width="17.99" height="19.08" fill="#a6d0e6"/>
<rect x="566.46" y="41.31" width="17.99" height="19.08" fill="#a6d0e6"/>
<rect x="584.45" y="41.31" width="17.99" height="19.08" fill="#a6d0e6"/>
<rect x="602.43" y="41.31" width="17.99" height="19.08" fill="#a6d0e6"/>
<rect x="620.42" y="41.31" width="17.99" height="19.08" fill="#a6d0e6"/>
<rect x="638.41" y="41.31" width="17.99" height="19.08" fill="#a6d0e6"/>
<rect x="422.55" y="60.39" width="17.99" height="19.08" fill="#ddecf4"/>
<rect x="440.54" y="60.39" width="17.99" height="19.08" fill="#ddecf4"/>
<rect x="458.53" y="60.39" width="17.99" height="19.08" fill="#ddecf4"/>
<rect x="476.52" y="60.39" width="17.99" height="19.08" fill="#ddecf4"/>
<rect x="494.50" y="60.39" width="17.99" height="19.08" fill="#93c4e2"/>
<rect x="512.49" y="60.39" width="17.99" height="19.08" fill="#9ac8e3"/>
<rect x="530.48" y="60.39" width="17.99" height="19.08" fill="#a6d0e6"/>
<rect x="548.47" y="60.39" width="17.99" height="19.08" fill="#a6d0e6"/>
<rect x="566.46" y="60.39" width="17.99" height="19.08" fill="#a6d0e6"/>
<rect x="584.45" y="60.39" width="17.99" height="19.08" fill="#a6d0e6"/>
<rect x="602.43" y="60.39" width="17.99" height="19.08" fill="#a6d0e6"/>
<rect x="620.42" y="60.39" width="17.99" height="19.08" fill="#a6d0e6"/>
<rect x="638.41" y="60.39" width="17.99" height="19.08" fill="#a6d0e6"/>
<rect x="422.55" y="79.47" width="17.99" height="19.08" fill="#ddecf4"/>
<rect x="440.54" y="79.47" width="17.99" height="19.08" fill="#ddecf4"/>
<rect x="458.53" y="79.47" width="17.99" height="19.08" fill="#ddecf4"/>
<rect x="476.52" y="79.47" width="17.99" height="19.08" fill="#ddecf4"/>
<rect x="494.50" y="79.47" width="17.99" height="19.08" fill="#93c4e1"/>
<rect x="512.49" y="79.47" width="17.99" height="19.08" fill="#9ac8e3"/>
<rect x="530.48" y="79.47" width="17.99" height="19.08" fill="#a6d0e6"/>
<rect x="548.47" y="79.47" width="17.99" height="19.08" fill="#a6d0e6"/>
<rect x="566.46" y="79.47" width="17.99" height="19.08" fill="#a6d0e6"/>
<rect x="584.45" y="79.47" width="17.99" height="19.08" fill="#a6d0e6"/>
<rect x="602.43" y="79.47" width="17.99" height="19.08" fill="#a6d0e6"/>
<rect x="620.42" y="79.47" width="17.99" height="19.08" fill="#a6d0e6"/>
<rect x="638.41" y="79.47" width="17.99" height="19.08" fill="#a6d0e6"/>
<rect x="422.55" y="98.54" width="17.99" height="19.08" fill="#ddecf4"/>
<rect x="440.54" y="98.54" width="17.99" height="19.08" fill="#ddecf4"/>
<rect x="458.53" y="98.54" width="17.99" height="19.08" fill="#ddecf4"/>
<rect x="476.52" y="98.54" width="17.99" height="19.08" fill="#ddecf4"/>
<rect x="494.50" y="98.54" width="17.99" height="19.08" fill="#91c3e1"/>
<rect x="512.49" y="98.54" width="17.99" height="19.08" fill="#99c8e3"/>
<rect x="530.48" y="98.54" width="17.99" height="19.08" fill="#a6d0e6"/>
<rect x="548.47" y="98.54" width="17.99" height="19.08" fill="#a6d0e6"/>
<rect x="566.46" y="98.54" width="17.99" height="19.08" fill="#a6d0e6"/>
<rect x="584.45" y="98.54" width="17.99" height="19.08" fill="#a6d0e6"/>
<rect x="602.43" y="98.54" width="17.99" height="19.08" fill="#a6d0e6"/>
<rect x="620.42" y="98.54" width="17.99" height="19.08" fill="#a6d0e6"/>
<rect x="638.41" y="98.54" width="17.99" height="19.08" fill="#a6d0e6"/>
<rect x="422.55" y="117.62" width="17.99" height="19.08" fill="#ddecf4"/>
<rect x="440.54" y="117.62" width="17.99" height="19.08" fill="#ddecf4"/>
<rect x="458.53" y="117.62" width="17.99" height="19.08" fill="#ddecf4"/>
<rect x="476.52" y="117.62" width="17.99" height="19.08" fill="#ddecf4"/>
<rect x="494.50" y="117.62" width="17.99" height="19.08" fill="#8fc2e0"/>
<rect x="512.49" y="117.62" width="17.99" height="19.08" fill="#98c7e3"/>
<rect x="530.48" y="117.62" width="17.99" height="19.08" fill="#a6d0e6"/>
<rect x="548.47" y="117.62" width="17.99" height="19.08" fill="#a5d0e6"/>
<rect x="566.46" y="117.62" width="17.99" height="19.08" fill="#a5d0e6"/>
<rect x="584.45" y="117.62" width="17.99" height="19.08" fill="#a5d0e6"/>
<rect x="602.43" y="117.62" width="17.99" height="19.08" fill="#a6d0e6"/>
<rect x="620.42" y="117.62" width="17.99" height="19.08" fill="#a6d0e6"/>
<rect x="638.41" y="117.62" width="17.99" height="19.08" fill="#a6d0e6"/>
<rect x="422.55" y="136.70" width="17.99" height="19.08" fill="#ddecf4"/>
<rect x="440.54" y="136.70" width="17.99" height="19.08" fill="#ddecf4"/>
<rect x="458.53" y="136.70" width="17.99" height="19.08" fill="#ddecf4"/>
<rect x="476.52" y="136.70" width="17.99" height="19.08" fill="#ddecf4"/>
<rect x="494.50" y="136.70" width="17.99" height="19.08" fill="#8cc0df"/>
<rect x="512.49" y="136.70" width="17.99" height="19.08" fill="#98c7e3"/>
<rect x="530.48" y="136.70" width="17.99" height="19.08" fill="#a6d0e6"/>
<rect x="548.47" y="136.70" width="17.99" height="19.08" fill="#a5d0e6"/>
<rect x="566.46" y="136.70" width="17.99" height="19.08" fill="#a5d0e6"/>
<rect x="584.45" y="136.70" width="17.99" height="19.08" fill="#a5d0e6"/>
<rect x="602.43" y="136.70" width="17.99" height="19.08" fill="#a6d0e6"/>
<rect x="620.42" y="136.70" width="17.99" height="19.08" fill="#a6d0e6"/>
<rect x="422.55" y="155.78" width="17.99" height="19.08" fill="#ddecf4"/>
<rect x="440.54" y="155.78" width="17.99" height="19.08" fill="#ddecf4"/>
<rect x="458.53" y="155.78" width="17.99" height="19.08" fill="#ddecf4"/>
<rect x="476.52" y="155.78" width="17.99" height="19.08" fill="#ddecf4"/>
<rect x="494.50" y="155.78" width="17.99" height="19.08" fill="#78b4d8"/>
<rect x="512.49" y="155.78" width="17.99" height="19.08" fill="#78b4d8"/>
<rect x="530.48" y="155.78" width="17.99" height="19.08" fill="#9ecbe4"/>
<rect x="548.47" y="155.78" width="17.99" height="19.08" fill="#9ecbe4"/>
<rect x="566.46" y="155.78" width="17.99" height="19.08" fill="#9ecbe4"/>
<rect x="584.45" y="155.78" width="17.99" height="19.08" fill="#9ecbe4"/>
<rect x="602.43" y="155.78" width="17.99" height="19.08" fill="#9ecbe4"/>
<rect x="422.55" y="174.86" width="17.99" height="19.08" fill="#ddecf4"/>
<rect x="440.54" y="174.86" width="17.99" height="19.08" fill="#ddecf4"/>
<rect x="458.53" y="174.86" width="17.99" height="19.08" fill="#ddecf4"/>
<rect x="476.52" y="174.86" width="17.99" height="19.08" fill="#ddecf4"/>
<rect x="494.50" y="174.86" width="17.99" height="19.08" fill="#cae3ef"/>
<rect x="512.49" y="174.86" width="17.99" height="19.08" fill="#3c7dc1"/>
<rect x="530.48" y="174.86" width="17.99" height="19.08" fill="#3c7dc1"/>
<rect x="548.47" y="174.86" width="17.99" height="19.08" fill="#3c7dc1"/>
<rect x="566.46" y="174.86" width="17.99" height="19.08" fill="#3c7dc1"/>
<rect x="422.55" y="193.94" width="17.99" height="19.08" fill="#ddecf4"/>
<rect x="440.54" y="193.94" width="17.99" height="19.08" fill="#ddecf4"/>
<rect x="458.53" y="193.94" width="17.99" height="19.08" fill="#ddecf4"/>
<rect x="476.52" y="193.94" width="17.99" height="19.08" fill="#ddecf4"/>
<rect x="494.50" y="193.94" width="17.99" height="19.08" fill="#d5e8f2"/>
<rect x="512.49" y="193.94" width="17.99" height="19.08" fill="#3c7dc1"/>
<rect x="530.48" y="193.94" width="17.99" height="19.08" fill="#3c7dc1"/>
<rect x="422.55" y="213.01" width="17.99" height="19.08" fill="#dfedf5"/>
<rect x="440.54" y="213.01" width="17.99" height="19.08" fill="#dfedf5"/>
<rect x="458.53" y="213.01" width="17.99" height="19.08" fill="#dfedf5"/>
<rect x="476.52" y="213.01" width="17.99" height="19.08" fill="#dfedf5"/>
<rect x="494.50" y="213.01" width="17.99" height="19.08" fill="#d6e9f2"/>
<rect x="422.55" y="232.09" width="17.99" height="19.08" fill="#dfedf5"/>
<rect x="440.54" y="232.09" width="17.99" height="19.08" fill="#dfedf5"/>
<rect x="458.53" y="232.09" width="17.99" height="19.08" fill="#dfedf5"/>
<rect x="476.52" y="232.09" width="17.99" height="19.08" fill="#dfedf5"/>
<rect x="422.55" y="251.17" width="17.99" height="19.08" fill="#e2eff5"/>
<rect x="440.54" y="251.17" width="17.99" height="19.08" fill="#e2eff5"/>
<line x1="422.55" x2="422.55" y1="22.23" y2="270.25" stroke="rgba(38,38,38,0.55)" stroke-width="0.6"/>
<line x1="422.55" x2="656.40" y1="22.23" y2="22.23" stroke="rgba(38,38,38,0.55)" stroke-width="0.6"/>
<line x1="440.54" x2="440.54" y1="22.23" y2="270.25" stroke="rgba(38,38,38,0.55)" stroke-width="0.6"/>
<line x1="422.55" x2="656.40" y1="41.31" y2="41.31" stroke="rgba(38,38,38,0.55)" stroke-width="0.6"/>
<line x1="458.53" x2="458.53" y1="22.23" y2="270.25" stroke="rgba(38,38,38,0.55)" stroke-width="0.6"/>
<line x1="422.55" x2="656.40" y1="60.39" y2="60.39" stroke="rgba(38,38,38,0.55)" stroke-width="0.6"/>
<line x1="476.52" x2="476.52" y1="22.23" y2="270.25" stroke="rgba(38,38,38,0.55)" stroke-width="0.6"/>
<line x1="422.55" x2="656.40" y1="79.47" y2="79.47" stroke="rgba(38,38,38,0.55)" stroke-width="0.6"/>
<line x1="494.50" x2="494.50" y1="22.23" y2="270.25" stroke="rgba(38,38,38,0.55)" stroke-width="0.6"/>
<line x1="422.55" x2="656.40" y1="98.54" y2="98.54" stroke="rgba(38,38,38,0.55)" stroke-width="0.6"/>
<line x1="512.49" x2="512.49" y1="22.23" y2="270.25" stroke="rgba(38,38,38,0.55)" stroke-width="0.6"/>
<line x1="422.55" x2="656.40" y1="117.62" y2="117.62" stroke="rgba(38,38,38,0.55)" stroke-width="0.6"/>
<line x1="530.48" x2="530.48" y1="22.23" y2="270.25" stroke="rgba(38,38,38,0.55)" stroke-width="0.6"/>
<line x1="422.55" x2="656.40" y1="136.70" y2="136.70" stroke="rgba(38,38,38,0.55)" stroke-width="0.6"/>
<line x1="548.47" x2="548.47" y1="22.23" y2="270.25" stroke="rgba(38,38,38,0.55)" stroke-width="0.6"/>
<line x1="422.55" x2="656.40" y1="155.78" y2="155.78" stroke="rgba(38,38,38,0.55)" stroke-width="0.6"/>
<line x1="566.46" x2="566.46" y1="22.23" y2="270.25" stroke="rgba(38,38,38,0.55)" stroke-width="0.6"/>
<line x1="422.55" x2="656.40" y1="174.86" y2="174.86" stroke="rgba(38,38,38,0.55)" stroke-width="0.6"/>
<line x1="584.45" x2="584.45" y1="22.23" y2="270.25" stroke="rgba(38,38,38,0.55)" stroke-width="0.6"/>
<line x1="422.55" x2="656.40" y1="193.94" y2="193.94" stroke="rgba(38,38,38,0.55)" stroke-width="0.6"/>
<line x1="602.43" x2="602.43" y1="22.23" y2="270.25" stroke="rgba(38,38,38,0.55)" stroke-width="0.6"/>
<line x1="422.55" x2="656.40" y1="213.01" y2="213.01" stroke="rgba(38,38,38,0.55)" stroke-width="0.6"/>
<line x1="620.42" x2="620.42" y1="22.23" y2="270.25" stroke="rgba(38,38,38,0.55)" stroke-width="0.6"/>
<line x1="422.55" x2="656.40" y1="232.09" y2="232.09" stroke="rgba(38,38,38,0.55)" stroke-width="0.6"/>
<line x1="638.41" x2="638.41" y1="22.23" y2="270.25" stroke="rgba(38,38,38,0.55)" stroke-width="0.6"/>
<line x1="422.55" x2="656.40" y1="251.17" y2="251.17" stroke="rgba(38,38,38,0.55)" stroke-width="0.6"/>
<line x1="656.40" x2="656.40" y1="22.23" y2="270.25" stroke="rgba(38,38,38,0.42)" stroke-width="0.6"/>
<line x1="422.55" x2="656.40" y1="270.25" y2="270.25" stroke="rgba(38,38,38,0.42)" stroke-width="0.6"/>
<text transform="translate(431.54,34.77) scale(1,1.1)" font-size="7.2" fill="#1c1c1c" stroke="#1c1c1c" text-anchor="middle">7.4</text>
<text transform="translate(449.53,34.77) scale(1,1.1)" font-size="7.2" fill="#1c1c1c" stroke="#1c1c1c" text-anchor="middle">7.4</text>
<text transform="translate(467.52,34.77) scale(1,1.1)" font-size="7.2" fill="#1c1c1c" stroke="#1c1c1c" text-anchor="middle">7.4</text>
<text transform="translate(485.51,34.77) scale(1,1.1)" font-size="7.2" fill="#1c1c1c" stroke="#1c1c1c" text-anchor="middle">7.4</text>
<text transform="translate(503.50,34.77) scale(1,1.1)" font-size="7.2" fill="#1c1c1c" stroke="#1c1c1c" text-anchor="middle">58.1</text>
<text transform="translate(521.49,34.77) scale(1,1.1)" font-size="7.2" fill="#1c1c1c" stroke="#1c1c1c" text-anchor="middle">53.2</text>
<text transform="translate(539.48,34.77) scale(1,1.1)" font-size="7.2" fill="#1c1c1c" stroke="#1c1c1c" text-anchor="middle">44</text>
<text transform="translate(557.46,34.77) scale(1,1.1)" font-size="7.2" fill="#1c1c1c" stroke="#1c1c1c" text-anchor="middle">44</text>
<text transform="translate(575.45,34.77) scale(1,1.1)" font-size="7.2" fill="#1c1c1c" stroke="#1c1c1c" text-anchor="middle">44</text>
<text transform="translate(593.44,34.77) scale(1,1.1)" font-size="7.2" fill="#1c1c1c" stroke="#1c1c1c" text-anchor="middle">44</text>
<text transform="translate(611.43,34.77) scale(1,1.1)" font-size="7.2" fill="#1c1c1c" stroke="#1c1c1c" text-anchor="middle">44</text>
<text transform="translate(629.42,34.77) scale(1,1.1)" font-size="7.2" fill="#1c1c1c" stroke="#1c1c1c" text-anchor="middle">44</text>
<text transform="translate(647.41,34.77) scale(1,1.1)" font-size="7.2" fill="#1c1c1c" stroke="#1c1c1c" text-anchor="middle">44</text>
<text transform="translate(431.54,53.85) scale(1,1.1)" font-size="7.2" fill="#1c1c1c" stroke="#1c1c1c" text-anchor="middle">7.4</text>
<text transform="translate(449.53,53.85) scale(1,1.1)" font-size="7.2" fill="#1c1c1c" stroke="#1c1c1c" text-anchor="middle">7.4</text>
<text transform="translate(467.52,53.85) scale(1,1.1)" font-size="7.2" fill="#1c1c1c" stroke="#1c1c1c" text-anchor="middle">7.4</text>
<text transform="translate(485.51,53.85) scale(1,1.1)" font-size="7.2" fill="#1c1c1c" stroke="#1c1c1c" text-anchor="middle">7.4</text>
<text transform="translate(503.50,53.85) scale(1,1.1)" font-size="7.2" fill="#1c1c1c" stroke="#1c1c1c" text-anchor="middle">58.1</text>
<text transform="translate(521.49,53.85) scale(1,1.1)" font-size="7.2" fill="#1c1c1c" stroke="#1c1c1c" text-anchor="middle">53.2</text>
<text transform="translate(539.48,53.85) scale(1,1.1)" font-size="7.2" fill="#1c1c1c" stroke="#1c1c1c" text-anchor="middle">44</text>
<text transform="translate(557.46,53.85) scale(1,1.1)" font-size="7.2" fill="#1c1c1c" stroke="#1c1c1c" text-anchor="middle">44</text>
<text transform="translate(575.45,53.85) scale(1,1.1)" font-size="7.2" fill="#1c1c1c" stroke="#1c1c1c" text-anchor="middle">44</text>
<text transform="translate(593.44,53.85) scale(1,1.1)" font-size="7.2" fill="#1c1c1c" stroke="#1c1c1c" text-anchor="middle">44</text>
<text transform="translate(611.43,53.85) scale(1,1.1)" font-size="7.2" fill="#1c1c1c" stroke="#1c1c1c" text-anchor="middle">44</text>
<text transform="translate(629.42,53.85) scale(1,1.1)" font-size="7.2" fill="#1c1c1c" stroke="#1c1c1c" text-anchor="middle">44</text>
<text transform="translate(647.41,53.85) scale(1,1.1)" font-size="7.2" fill="#1c1c1c" stroke="#1c1c1c" text-anchor="middle">44</text>
<text transform="translate(431.54,72.93) scale(1,1.1)" font-size="7.2" fill="#1c1c1c" stroke="#1c1c1c" text-anchor="middle">7.4</text>
<text transform="translate(449.53,72.93) scale(1,1.1)" font-size="7.2" fill="#1c1c1c" stroke="#1c1c1c" text-anchor="middle">7.4</text>
<text transform="translate(467.52,72.93) scale(1,1.1)" font-size="7.2" fill="#1c1c1c" stroke="#1c1c1c" text-anchor="middle">7.4</text>
<text transform="translate(485.51,72.93) scale(1,1.1)" font-size="7.2" fill="#1c1c1c" stroke="#1c1c1c" text-anchor="middle">7.4</text>
<text transform="translate(503.50,72.93) scale(1,1.1)" font-size="7.2" fill="#1c1c1c" stroke="#1c1c1c" text-anchor="middle">58.1</text>
<text transform="translate(521.49,72.93) scale(1,1.1)" font-size="7.2" fill="#1c1c1c" stroke="#1c1c1c" text-anchor="middle">53.2</text>
<text transform="translate(539.48,72.93) scale(1,1.1)" font-size="7.2" fill="#1c1c1c" stroke="#1c1c1c" text-anchor="middle">44</text>
<text transform="translate(557.46,72.93) scale(1,1.1)" font-size="7.2" fill="#1c1c1c" stroke="#1c1c1c" text-anchor="middle">44</text>
<text transform="translate(575.45,72.93) scale(1,1.1)" font-size="7.2" fill="#1c1c1c" stroke="#1c1c1c" text-anchor="middle">44</text>
<text transform="translate(593.44,72.93) scale(1,1.1)" font-size="7.2" fill="#1c1c1c" stroke="#1c1c1c" text-anchor="middle">44</text>
<text transform="translate(611.43,72.93) scale(1,1.1)" font-size="7.2" fill="#1c1c1c" stroke="#1c1c1c" text-anchor="middle">44</text>
<text transform="translate(629.42,72.93) scale(1,1.1)" font-size="7.2" fill="#1c1c1c" stroke="#1c1c1c" text-anchor="middle">44</text>
<text transform="translate(647.41,72.93) scale(1,1.1)" font-size="7.2" fill="#1c1c1c" stroke="#1c1c1c" text-anchor="middle">44</text>
<text transform="translate(431.54,92.00) scale(1,1.1)" font-size="7.2" fill="#1c1c1c" stroke="#1c1c1c" text-anchor="middle">7.4</text>
<text transform="translate(449.53,92.00) scale(1,1.1)" font-size="7.2" fill="#1c1c1c" stroke="#1c1c1c" text-anchor="middle">7.4</text>
<text transform="translate(467.52,92.00) scale(1,1.1)" font-size="7.2" fill="#1c1c1c" stroke="#1c1c1c" text-anchor="middle">7.4</text>
<text transform="translate(485.51,92.00) scale(1,1.1)" font-size="7.2" fill="#1c1c1c" stroke="#1c1c1c" text-anchor="middle">7.4</text>
<text transform="translate(503.50,92.00) scale(1,1.1)" font-size="7.2" fill="#1c1c1c" stroke="#1c1c1c" text-anchor="middle">58.4</text>
<text transform="translate(521.49,92.00) scale(1,1.1)" font-size="7.2" fill="#1c1c1c" stroke="#1c1c1c" text-anchor="middle">53.2</text>
<text transform="translate(539.48,92.00) scale(1,1.1)" font-size="7.2" fill="#1c1c1c" stroke="#1c1c1c" text-anchor="middle">44</text>
<text transform="translate(557.46,92.00) scale(1,1.1)" font-size="7.2" fill="#1c1c1c" stroke="#1c1c1c" text-anchor="middle">44</text>
<text transform="translate(575.45,92.00) scale(1,1.1)" font-size="7.2" fill="#1c1c1c" stroke="#1c1c1c" text-anchor="middle">44</text>
<text transform="translate(593.44,92.00) scale(1,1.1)" font-size="7.2" fill="#1c1c1c" stroke="#1c1c1c" text-anchor="middle">44</text>
<text transform="translate(611.43,92.00) scale(1,1.1)" font-size="7.2" fill="#1c1c1c" stroke="#1c1c1c" text-anchor="middle">44</text>
<text transform="translate(629.42,92.00) scale(1,1.1)" font-size="7.2" fill="#1c1c1c" stroke="#1c1c1c" text-anchor="middle">44</text>
<text transform="translate(647.41,92.00) scale(1,1.1)" font-size="7.2" fill="#1c1c1c" stroke="#1c1c1c" text-anchor="middle">44</text>
<text transform="translate(431.54,111.08) scale(1,1.1)" font-size="7.2" fill="#1c1c1c" stroke="#1c1c1c" text-anchor="middle">7.4</text>
<text transform="translate(449.53,111.08) scale(1,1.1)" font-size="7.2" fill="#1c1c1c" stroke="#1c1c1c" text-anchor="middle">7.4</text>
<text transform="translate(467.52,111.08) scale(1,1.1)" font-size="7.2" fill="#1c1c1c" stroke="#1c1c1c" text-anchor="middle">7.4</text>
<text transform="translate(485.51,111.08) scale(1,1.1)" font-size="7.2" fill="#1c1c1c" stroke="#1c1c1c" text-anchor="middle">7.4</text>
<text transform="translate(503.50,111.08) scale(1,1.1)" font-size="7.2" fill="#1c1c1c" stroke="#1c1c1c" text-anchor="middle">59.9</text>
<text transform="translate(521.49,111.08) scale(1,1.1)" font-size="7.2" fill="#1c1c1c" stroke="#1c1c1c" text-anchor="middle">53.5</text>
<text transform="translate(539.48,111.08) scale(1,1.1)" font-size="7.2" fill="#1c1c1c" stroke="#1c1c1c" text-anchor="middle">44</text>
<text transform="translate(557.46,111.08) scale(1,1.1)" font-size="7.2" fill="#1c1c1c" stroke="#1c1c1c" text-anchor="middle">44</text>
<text transform="translate(575.45,111.08) scale(1,1.1)" font-size="7.2" fill="#1c1c1c" stroke="#1c1c1c" text-anchor="middle">44</text>
<text transform="translate(593.44,111.08) scale(1,1.1)" font-size="7.2" fill="#1c1c1c" stroke="#1c1c1c" text-anchor="middle">44</text>
<text transform="translate(611.43,111.08) scale(1,1.1)" font-size="7.2" fill="#1c1c1c" stroke="#1c1c1c" text-anchor="middle">44</text>
<text transform="translate(629.42,111.08) scale(1,1.1)" font-size="7.2" fill="#1c1c1c" stroke="#1c1c1c" text-anchor="middle">44.1</text>
<text transform="translate(647.41,111.08) scale(1,1.1)" font-size="7.2" fill="#1c1c1c" stroke="#1c1c1c" text-anchor="middle">44.1</text>
<text transform="translate(431.54,130.16) scale(1,1.1)" font-size="7.2" fill="#1c1c1c" stroke="#1c1c1c" text-anchor="middle">7.4</text>
<text transform="translate(449.53,130.16) scale(1,1.1)" font-size="7.2" fill="#1c1c1c" stroke="#1c1c1c" text-anchor="middle">7.4</text>
<text transform="translate(467.52,130.16) scale(1,1.1)" font-size="7.2" fill="#1c1c1c" stroke="#1c1c1c" text-anchor="middle">7.4</text>
<text transform="translate(485.51,130.16) scale(1,1.1)" font-size="7.2" fill="#1c1c1c" stroke="#1c1c1c" text-anchor="middle">7.4</text>
<text transform="translate(503.50,130.16) scale(1,1.1)" font-size="7.2" fill="#1c1c1c" stroke="#1c1c1c" text-anchor="middle">61.7</text>
<text transform="translate(521.49,130.16) scale(1,1.1)" font-size="7.2" fill="#1c1c1c" stroke="#1c1c1c" text-anchor="middle">54.9</text>
<text transform="translate(539.48,130.16) scale(1,1.1)" font-size="7.2" fill="#1c1c1c" stroke="#1c1c1c" text-anchor="middle">44.2</text>
<text transform="translate(557.46,130.16) scale(1,1.1)" font-size="7.2" fill="#1c1c1c" stroke="#1c1c1c" text-anchor="middle">44.5</text>
<text transform="translate(575.45,130.16) scale(1,1.1)" font-size="7.2" fill="#1c1c1c" stroke="#1c1c1c" text-anchor="middle">44.5</text>
<text transform="translate(593.44,130.16) scale(1,1.1)" font-size="7.2" fill="#1c1c1c" stroke="#1c1c1c" text-anchor="middle">44.5</text>
<text transform="translate(611.43,130.16) scale(1,1.1)" font-size="7.2" fill="#1c1c1c" stroke="#1c1c1c" text-anchor="middle">44.3</text>
<text transform="translate(629.42,130.16) scale(1,1.1)" font-size="7.2" fill="#1c1c1c" stroke="#1c1c1c" text-anchor="middle">44.3</text>
<text transform="translate(647.41,130.16) scale(1,1.1)" font-size="7.2" fill="#1c1c1c" stroke="#1c1c1c" text-anchor="middle">44.3</text>
<text transform="translate(431.54,149.24) scale(1,1.1)" font-size="7.2" fill="#1c1c1c" stroke="#1c1c1c" text-anchor="middle">7.4</text>
<text transform="translate(449.53,149.24) scale(1,1.1)" font-size="7.2" fill="#1c1c1c" stroke="#1c1c1c" text-anchor="middle">7.4</text>
<text transform="translate(467.52,149.24) scale(1,1.1)" font-size="7.2" fill="#1c1c1c" stroke="#1c1c1c" text-anchor="middle">7.4</text>
<text transform="translate(485.51,149.24) scale(1,1.1)" font-size="7.2" fill="#1c1c1c" stroke="#1c1c1c" text-anchor="middle">7.4</text>
<text transform="translate(503.50,149.24) scale(1,1.1)" font-size="7.2" fill="#1c1c1c" stroke="#1c1c1c" text-anchor="middle">63.9</text>
<text transform="translate(521.49,149.24) scale(1,1.1)" font-size="7.2" fill="#1c1c1c" stroke="#1c1c1c" text-anchor="middle">54.9</text>
<text transform="translate(539.48,149.24) scale(1,1.1)" font-size="7.2" fill="#1c1c1c" stroke="#1c1c1c" text-anchor="middle">44.2</text>
<text transform="translate(557.46,149.24) scale(1,1.1)" font-size="7.2" fill="#1c1c1c" stroke="#1c1c1c" text-anchor="middle">44.5</text>
<text transform="translate(575.45,149.24) scale(1,1.1)" font-size="7.2" fill="#1c1c1c" stroke="#1c1c1c" text-anchor="middle">44.5</text>
<text transform="translate(593.44,149.24) scale(1,1.1)" font-size="7.2" fill="#1c1c1c" stroke="#1c1c1c" text-anchor="middle">44.5</text>
<text transform="translate(611.43,149.24) scale(1,1.1)" font-size="7.2" fill="#1c1c1c" stroke="#1c1c1c" text-anchor="middle">44.3</text>
<text transform="translate(629.42,149.24) scale(1,1.1)" font-size="7.2" fill="#1c1c1c" stroke="#1c1c1c" text-anchor="middle">44.3</text>
<text transform="translate(431.54,168.32) scale(1,1.1)" font-size="7.2" fill="#1c1c1c" stroke="#1c1c1c" text-anchor="middle">7.4</text>
<text transform="translate(449.53,168.32) scale(1,1.1)" font-size="7.2" fill="#1c1c1c" stroke="#1c1c1c" text-anchor="middle">7.4</text>
<text transform="translate(467.52,168.32) scale(1,1.1)" font-size="7.2" fill="#1c1c1c" stroke="#1c1c1c" text-anchor="middle">7.4</text>
<text transform="translate(485.51,168.32) scale(1,1.1)" font-size="7.2" fill="#1c1c1c" stroke="#1c1c1c" text-anchor="middle">7.4</text>
<text transform="translate(503.50,168.32) scale(1,1.1)" font-size="7.2" fill="#1c1c1c" stroke="#1c1c1c" text-anchor="middle">79.1</text>
<text transform="translate(521.49,168.32) scale(1,1.1)" font-size="7.2" fill="#1c1c1c" stroke="#1c1c1c" text-anchor="middle">79.1</text>
<text transform="translate(539.48,168.32) scale(1,1.1)" font-size="7.2" fill="#1c1c1c" stroke="#1c1c1c" text-anchor="middle">50</text>
<text transform="translate(557.46,168.32) scale(1,1.1)" font-size="7.2" fill="#1c1c1c" stroke="#1c1c1c" text-anchor="middle">50</text>
<text transform="translate(575.45,168.32) scale(1,1.1)" font-size="7.2" fill="#1c1c1c" stroke="#1c1c1c" text-anchor="middle">50</text>
<text transform="translate(593.44,168.32) scale(1,1.1)" font-size="7.2" fill="#1c1c1c" stroke="#1c1c1c" text-anchor="middle">50</text>
<text transform="translate(611.43,168.32) scale(1,1.1)" font-size="7.2" fill="#1c1c1c" stroke="#1c1c1c" text-anchor="middle">50</text>
<text transform="translate(431.54,187.40) scale(1,1.1)" font-size="7.2" fill="#1c1c1c" stroke="#1c1c1c" text-anchor="middle">7.4</text>
<text transform="translate(449.53,187.40) scale(1,1.1)" font-size="7.2" fill="#1c1c1c" stroke="#1c1c1c" text-anchor="middle">7.4</text>
<text transform="translate(467.52,187.40) scale(1,1.1)" font-size="7.2" fill="#1c1c1c" stroke="#1c1c1c" text-anchor="middle">7.4</text>
<text transform="translate(485.51,187.40) scale(1,1.1)" font-size="7.2" fill="#1c1c1c" stroke="#1c1c1c" text-anchor="middle">7.4</text>
<text transform="translate(503.50,187.40) scale(1,1.1)" font-size="7.2" fill="#1c1c1c" stroke="#1c1c1c" text-anchor="middle">19.7</text>
<text transform="translate(521.49,187.40) scale(1,1.1)" font-size="7.2" fill="#ffffff" stroke="#ffffff" text-anchor="middle">150</text>
<text transform="translate(539.48,187.40) scale(1,1.1)" font-size="7.2" fill="#ffffff" stroke="#ffffff" text-anchor="middle">150</text>
<text transform="translate(557.46,187.40) scale(1,1.1)" font-size="7.2" fill="#ffffff" stroke="#ffffff" text-anchor="middle">150</text>
<text transform="translate(575.45,187.40) scale(1,1.1)" font-size="7.2" fill="#ffffff" stroke="#ffffff" text-anchor="middle">150</text>
<text transform="translate(431.54,206.48) scale(1,1.1)" font-size="7.2" fill="#1c1c1c" stroke="#1c1c1c" text-anchor="middle">7.4</text>
<text transform="translate(449.53,206.48) scale(1,1.1)" font-size="7.2" fill="#1c1c1c" stroke="#1c1c1c" text-anchor="middle">7.4</text>
<text transform="translate(467.52,206.48) scale(1,1.1)" font-size="7.2" fill="#1c1c1c" stroke="#1c1c1c" text-anchor="middle">7.4</text>
<text transform="translate(485.51,206.48) scale(1,1.1)" font-size="7.2" fill="#1c1c1c" stroke="#1c1c1c" text-anchor="middle">7.4</text>
<text transform="translate(503.50,206.48) scale(1,1.1)" font-size="7.2" fill="#1c1c1c" stroke="#1c1c1c" text-anchor="middle">12.7</text>
<text transform="translate(521.49,206.48) scale(1,1.1)" font-size="7.2" fill="#ffffff" stroke="#ffffff" text-anchor="middle">150</text>
<text transform="translate(539.48,206.48) scale(1,1.1)" font-size="7.2" fill="#ffffff" stroke="#ffffff" text-anchor="middle">150</text>
<text transform="translate(431.54,225.55) scale(1,1.1)" font-size="7.2" fill="#1c1c1c" stroke="#1c1c1c" text-anchor="middle">5.8</text>
<text transform="translate(449.53,225.55) scale(1,1.1)" font-size="7.2" fill="#1c1c1c" stroke="#1c1c1c" text-anchor="middle">5.8</text>
<text transform="translate(467.52,225.55) scale(1,1.1)" font-size="7.2" fill="#1c1c1c" stroke="#1c1c1c" text-anchor="middle">5.8</text>
<text transform="translate(485.51,225.55) scale(1,1.1)" font-size="7.2" fill="#1c1c1c" stroke="#1c1c1c" text-anchor="middle">5.8</text>
<text transform="translate(503.50,225.55) scale(1,1.1)" font-size="7.2" fill="#1c1c1c" stroke="#1c1c1c" text-anchor="middle">11.9</text>
<text transform="translate(431.54,244.63) scale(1,1.1)" font-size="7.2" fill="#1c1c1c" stroke="#1c1c1c" text-anchor="middle">5.8</text>
<text transform="translate(449.53,244.63) scale(1,1.1)" font-size="7.2" fill="#1c1c1c" stroke="#1c1c1c" text-anchor="middle">5.8</text>
<text transform="translate(467.52,244.63) scale(1,1.1)" font-size="7.2" fill="#1c1c1c" stroke="#1c1c1c" text-anchor="middle">5.8</text>
<text transform="translate(485.51,244.63) scale(1,1.1)" font-size="7.2" fill="#1c1c1c" stroke="#1c1c1c" text-anchor="middle">5.8</text>
<text transform="translate(431.54,263.71) scale(1,1.1)" font-size="7.2" fill="#1c1c1c" stroke="#1c1c1c" text-anchor="middle">3.8</text>
<text transform="translate(449.53,263.71) scale(1,1.1)" font-size="7.2" fill="#1c1c1c" stroke="#1c1c1c" text-anchor="middle">3.8</text>
<text transform="translate(419.75,34.77) scale(1,1.1)" font-size="7.35" fill="#262626" stroke="#262626" text-anchor="end">4.00</text>
<text transform="translate(419.75,53.85) scale(1,1.1)" font-size="7.35" fill="#262626" stroke="#262626" text-anchor="end">3.71</text>
<text transform="translate(419.75,72.93) scale(1,1.1)" font-size="7.35" fill="#262626" stroke="#262626" text-anchor="end">3.42</text>
<text transform="translate(419.75,92.00) scale(1,1.1)" font-size="7.35" fill="#262626" stroke="#262626" text-anchor="end">3.12</text>
<text transform="translate(419.75,111.08) scale(1,1.1)" font-size="7.35" fill="#262626" stroke="#262626" text-anchor="end">2.83</text>
<text transform="translate(419.75,130.16) scale(1,1.1)" font-size="7.35" fill="#262626" stroke="#262626" text-anchor="end">2.54</text>
<text transform="translate(419.75,149.24) scale(1,1.1)" font-size="7.35" fill="#262626" stroke="#262626" text-anchor="end">2.25</text>
<text transform="translate(419.75,168.32) scale(1,1.1)" font-size="7.35" fill="#262626" stroke="#262626" text-anchor="end">1.96</text>
<text transform="translate(419.75,187.40) scale(1,1.1)" font-size="7.35" fill="#262626" stroke="#262626" text-anchor="end">1.67</text>
<text transform="translate(419.75,206.48) scale(1,1.1)" font-size="7.35" fill="#262626" stroke="#262626" text-anchor="end">1.38</text>
<text transform="translate(419.75,225.55) scale(1,1.1)" font-size="7.35" fill="#262626" stroke="#262626" text-anchor="end">1.08</text>
<text transform="translate(419.75,244.63) scale(1,1.1)" font-size="7.35" fill="#262626" stroke="#262626" text-anchor="end">0.79</text>
<text transform="translate(419.75,263.71) scale(1,1.1)" font-size="7.35" fill="#262626" stroke="#262626" text-anchor="end">0.50</text>
<text transform="translate(434.84,276.75) rotate(-45) scale(1,1.1)" font-size="7.35" fill="#262626" stroke="#262626" text-anchor="end" dominant-baseline="auto" dy="2.5">0.25</text>
<text transform="translate(452.83,276.75) rotate(-45) scale(1,1.1)" font-size="7.35" fill="#262626" stroke="#262626" text-anchor="end" dominant-baseline="auto" dy="2.5">0.42</text>
<text transform="translate(470.82,276.75) rotate(-45) scale(1,1.1)" font-size="7.35" fill="#262626" stroke="#262626" text-anchor="end" dominant-baseline="auto" dy="2.5">0.58</text>
<text transform="translate(488.81,276.75) rotate(-45) scale(1,1.1)" font-size="7.35" fill="#262626" stroke="#262626" text-anchor="end" dominant-baseline="auto" dy="2.5">0.75</text>
<text transform="translate(506.80,276.75) rotate(-45) scale(1,1.1)" font-size="7.35" fill="#262626" stroke="#262626" text-anchor="end" dominant-baseline="auto" dy="2.5">0.92</text>
<text transform="translate(524.79,276.75) rotate(-45) scale(1,1.1)" font-size="7.35" fill="#262626" stroke="#262626" text-anchor="end" dominant-baseline="auto" dy="2.5">1.08</text>
<text transform="translate(542.77,276.75) rotate(-45) scale(1,1.1)" font-size="7.35" fill="#262626" stroke="#262626" text-anchor="end" dominant-baseline="auto" dy="2.5">1.25</text>
<text transform="translate(560.76,276.75) rotate(-45) scale(1,1.1)" font-size="7.35" fill="#262626" stroke="#262626" text-anchor="end" dominant-baseline="auto" dy="2.5">1.42</text>
<text transform="translate(578.75,276.75) rotate(-45) scale(1,1.1)" font-size="7.35" fill="#262626" stroke="#262626" text-anchor="end" dominant-baseline="auto" dy="2.5">1.58</text>
<text transform="translate(596.74,276.75) rotate(-45) scale(1,1.1)" font-size="7.35" fill="#262626" stroke="#262626" text-anchor="end" dominant-baseline="auto" dy="2.5">1.75</text>
<text transform="translate(614.73,276.75) rotate(-45) scale(1,1.1)" font-size="7.35" fill="#262626" stroke="#262626" text-anchor="end" dominant-baseline="auto" dy="2.5">1.92</text>
<text transform="translate(632.72,276.75) rotate(-45) scale(1,1.1)" font-size="7.35" fill="#262626" stroke="#262626" text-anchor="end" dominant-baseline="auto" dy="2.5">2.08</text>
<text transform="translate(650.71,276.75) rotate(-45) scale(1,1.1)" font-size="7.35" fill="#262626" stroke="#262626" text-anchor="end" dominant-baseline="auto" dy="2.5">2.25</text>
<text x="539.48" y="298.70" font-size="8.3" fill="#1c1c1c" stroke="#1c1c1c" text-anchor="middle">Lower toxicity bound: Tox<tspan font-size="7.3" dy="4.6">on</tspan></text>
<text transform="translate(397.30,146.24) rotate(-90)" font-size="8.3" fill="#1c1c1c" stroke="#1c1c1c" text-anchor="middle">Upper toxicity bound: Tox<tspan font-size="7.3" dy="4.6">off</tspan></text>
<rect x="660.30" y="22.23" width="8.50" height="235.47" fill="url(#cb)" stroke="rgba(38,38,38,0.55)" stroke-width="0.5"/>
<rect x="660.30" y="262.60" width="8.50" height="7.65" fill="#262626"/>
<line x1="666.90" x2="668.80" y1="257.70" y2="257.70" stroke="rgba(38,38,38,0.8)" stroke-width="0.55"/>
<text x="671.20" y="260.40" font-size="6.5" fill="#1c1c1c" stroke="#1c1c1c">0</text>
<line x1="666.90" x2="668.80" y1="179.21" y2="179.21" stroke="rgba(38,38,38,0.8)" stroke-width="0.55"/>
<text x="671.20" y="181.91" font-size="6.5" fill="#1c1c1c" stroke="#1c1c1c">50</text>
<line x1="666.90" x2="668.80" y1="100.72" y2="100.72" stroke="rgba(38,38,38,0.8)" stroke-width="0.55"/>
<text x="671.20" y="103.42" font-size="6.5" fill="#1c1c1c" stroke="#1c1c1c">100</text>
<line x1="666.90" x2="668.80" y1="22.23" y2="22.23" stroke="rgba(38,38,38,0.8)" stroke-width="0.55"/>
<text x="671.20" y="24.93" font-size="6.5" fill="#1c1c1c" stroke="#1c1c1c">150</text>
<text x="671.20" y="269.23" font-size="6.5" fill="#1c1c1c" stroke="#1c1c1c">NaN</text>
<text transform="translate(0.6,328) scale(1.06,1)" font-size="14.6" font-weight="bold" fill="#000" stroke="#000">C</text>
<text x="157.65" y="336.60" font-size="8.02" font-weight="bold" fill="#1c1c1c" stroke="#1c1c1c" text-anchor="middle">Adaptive: TTP(daily) = 19.2</text>
<rect x="43.00" y="340.40" width="229.30" height="238.60" fill="#262626"/>
<rect x="131.19" y="340.40" width="17.64" height="18.35" fill="#3c7dc1"/>
<rect x="148.83" y="340.40" width="17.64" height="18.35" fill="#3c7dc1"/>
<rect x="166.47" y="340.40" width="17.64" height="18.35" fill="#3c7dc1"/>
<rect x="184.11" y="340.40" width="17.64" height="18.35" fill="#3c7dc1"/>
<rect x="201.75" y="340.40" width="17.64" height="18.35" fill="#3c7dc1"/>
<rect x="219.38" y="340.40" width="17.64" height="18.35" fill="#e2eff5"/>
<rect x="237.02" y="340.40" width="17.64" height="18.35" fill="#e2eff5"/>
<rect x="254.66" y="340.40" width="17.64" height="18.35" fill="#e2eff5"/>
<rect x="113.55" y="358.75" width="17.64" height="18.35" fill="#3c7dc1"/>
<rect x="131.19" y="358.75" width="17.64" height="18.35" fill="#3c7dc1"/>
<rect x="148.83" y="358.75" width="17.64" height="18.35" fill="#3c7dc1"/>
<rect x="166.47" y="358.75" width="17.64" height="18.35" fill="#3c7dc1"/>
<rect x="184.11" y="358.75" width="17.64" height="18.35" fill="#3c7dc1"/>
<rect x="201.75" y="358.75" width="17.64" height="18.35" fill="#3c7dc1"/>
<rect x="219.38" y="358.75" width="17.64" height="18.35" fill="#dfedf5"/>
<rect x="237.02" y="358.75" width="17.64" height="18.35" fill="#dfedf5"/>
<rect x="254.66" y="358.75" width="17.64" height="18.35" fill="#dfedf5"/>
<rect x="113.55" y="377.11" width="17.64" height="18.35" fill="#8ec1e0"/>
<rect x="131.19" y="377.11" width="17.64" height="18.35" fill="#3c7dc1"/>
<rect x="148.83" y="377.11" width="17.64" height="18.35" fill="#3c7dc1"/>
<rect x="166.47" y="377.11" width="17.64" height="18.35" fill="#3c7dc1"/>
<rect x="184.11" y="377.11" width="17.64" height="18.35" fill="#3c7dc1"/>
<rect x="201.75" y="377.11" width="17.64" height="18.35" fill="#3c7dc1"/>
<rect x="219.38" y="377.11" width="17.64" height="18.35" fill="#dfedf5"/>
<rect x="237.02" y="377.11" width="17.64" height="18.35" fill="#dfedf5"/>
<rect x="254.66" y="377.11" width="17.64" height="18.35" fill="#dfedf5"/>
<rect x="95.92" y="395.46" width="17.64" height="18.35" fill="#a2cde5"/>
<rect x="113.55" y="395.46" width="17.64" height="18.35" fill="#96c6e2"/>
<rect x="131.19" y="395.46" width="17.64" height="18.35" fill="#7ab5d9"/>
<rect x="148.83" y="395.46" width="17.64" height="18.35" fill="#3c7dc1"/>
<rect x="166.47" y="395.46" width="17.64" height="18.35" fill="#3c7dc1"/>
<rect x="184.11" y="395.46" width="17.64" height="18.35" fill="#3c7dc1"/>
<rect x="201.75" y="395.46" width="17.64" height="18.35" fill="#3c7dc1"/>
<rect x="219.38" y="395.46" width="17.64" height="18.35" fill="#dfedf5"/>
<rect x="237.02" y="395.46" width="17.64" height="18.35" fill="#dfedf5"/>
<rect x="254.66" y="395.46" width="17.64" height="18.35" fill="#dfedf5"/>
<rect x="78.28" y="413.82" width="17.64" height="18.35" fill="#b1d6e9"/>
<rect x="95.92" y="413.82" width="17.64" height="18.35" fill="#b1d5e9"/>
<rect x="113.55" y="413.82" width="17.64" height="18.35" fill="#96c6e2"/>
<rect x="131.19" y="413.82" width="17.64" height="18.35" fill="#7ab5d9"/>
<rect x="148.83" y="413.82" width="17.64" height="18.35" fill="#3c7dc1"/>
<rect x="166.47" y="413.82" width="17.64" height="18.35" fill="#3c7dc1"/>
<rect x="184.11" y="413.82" width="17.64" height="18.35" fill="#3c7dc1"/>
<rect x="201.75" y="413.82" width="17.64" height="18.35" fill="#3c7dc1"/>
<rect x="219.38" y="413.82" width="17.64" height="18.35" fill="#dfedf5"/>
<rect x="237.02" y="413.82" width="17.64" height="18.35" fill="#dfedf5"/>
<rect x="254.66" y="413.82" width="17.64" height="18.35" fill="#dfedf5"/>
<rect x="60.64" y="432.17" width="17.64" height="18.35" fill="#b9daeb"/>
<rect x="78.28" y="432.17" width="17.64" height="18.35" fill="#b1d5e9"/>
<rect x="95.92" y="432.17" width="17.64" height="18.35" fill="#b1d5e9"/>
<rect x="113.55" y="432.17" width="17.64" height="18.35" fill="#a6d0e6"/>
<rect x="131.19" y="432.17" width="17.64" height="18.35" fill="#a6d0e6"/>
<rect x="148.83" y="432.17" width="17.64" height="18.35" fill="#94c5e2"/>
<rect x="166.47" y="432.17" width="17.64" height="18.35" fill="#80b9db"/>
<rect x="184.11" y="432.17" width="17.64" height="18.35" fill="#80b9db"/>
<rect x="201.75" y="432.17" width="17.64" height="18.35" fill="#80b9db"/>
<rect x="219.38" y="432.17" width="17.64" height="18.35" fill="#95c6e2"/>
<rect x="237.02" y="432.17" width="17.64" height="18.35" fill="#ddecf4"/>
<rect x="254.66" y="432.17" width="17.64" height="18.35" fill="#ddecf4"/>
<rect x="60.64" y="450.52" width="17.64" height="18.35" fill="#bbdbeb"/>
<rect x="78.28" y="450.52" width="17.64" height="18.35" fill="#b7d9ea"/>
<rect x="95.92" y="450.52" width="17.64" height="18.35" fill="#b5d8ea"/>
<rect x="113.55" y="450.52" width="17.64" height="18.35" fill="#b5d8ea"/>
<rect x="131.19" y="450.52" width="17.64" height="18.35" fill="#b5d8ea"/>
<rect x="148.83" y="450.52" width="17.64" height="18.35" fill="#a1cde5"/>
<rect x="166.47" y="450.52" width="17.64" height="18.35" fill="#80b9db"/>
<rect x="184.11" y="450.52" width="17.64" height="18.35" fill="#80b9db"/>
<rect x="201.75" y="450.52" width="17.64" height="18.35" fill="#80b9db"/>
<rect x="219.38" y="450.52" width="17.64" height="18.35" fill="#95c6e2"/>
<rect x="237.02" y="450.52" width="17.64" height="18.35" fill="#ddecf4"/>
<rect x="254.66" y="450.52" width="17.64" height="18.35" fill="#ddecf4"/>
<rect x="43.00" y="468.88" width="17.64" height="18.35" fill="#c0ddec"/>
<rect x="60.64" y="468.88" width="17.64" height="18.35" fill="#bedcec"/>
<rect x="78.28" y="468.88" width="17.64" height="18.35" fill="#b7d9ea"/>
<rect x="95.92" y="468.88" width="17.64" height="18.35" fill="#b5d8ea"/>
<rect x="113.55" y="468.88" width="17.64" height="18.35" fill="#b5d8ea"/>
<rect x="131.19" y="468.88" width="17.64" height="18.35" fill="#b5d8ea"/>
<rect x="148.83" y="468.88" width="17.64" height="18.35" fill="#a0cce5"/>
<rect x="166.47" y="468.88" width="17.64" height="18.35" fill="#88bede"/>
<rect x="184.11" y="468.88" width="17.64" height="18.35" fill="#86bcdd"/>
<rect x="201.75" y="468.88" width="17.64" height="18.35" fill="#86bcdd"/>
<rect x="219.38" y="468.88" width="17.64" height="18.35" fill="#86bcdd"/>
<rect x="237.02" y="468.88" width="17.64" height="18.35" fill="#ddecf4"/>
<rect x="254.66" y="468.88" width="17.64" height="18.35" fill="#ddecf4"/>
<rect x="43.00" y="487.23" width="17.64" height="18.35" fill="#c3dfed"/>
<rect x="60.64" y="487.23" width="17.64" height="18.35" fill="#c0ddec"/>
<rect x="78.28" y="487.23" width="17.64" height="18.35" fill="#b6d8ea"/>
<rect x="95.92" y="487.23" width="17.64" height="18.35" fill="#b6d8ea"/>
<rect x="113.55" y="487.23" width="17.64" height="18.35" fill="#b4d7e9"/>
<rect x="131.19" y="487.23" width="17.64" height="18.35" fill="#b4d7e9"/>
<rect x="148.83" y="487.23" width="17.64" height="18.35" fill="#b3d7e9"/>
<rect x="166.47" y="487.23" width="17.64" height="18.35" fill="#b3d7e9"/>
<rect x="184.11" y="487.23" width="17.64" height="18.35" fill="#a6d0e6"/>
<rect x="201.75" y="487.23" width="17.64" height="18.35" fill="#d0e6f0"/>
<rect x="219.38" y="487.23" width="17.64" height="18.35" fill="#d0e6f0"/>
<rect x="237.02" y="487.23" width="17.64" height="18.35" fill="#ddecf4"/>
<rect x="254.66" y="487.23" width="17.64" height="18.35" fill="#ddecf4"/>
<rect x="43.00" y="505.58" width="17.64" height="18.35" fill="#c2dfed"/>
<rect x="60.64" y="505.58" width="17.64" height="18.35" fill="#c2dfed"/>
<rect x="78.28" y="505.58" width="17.64" height="18.35" fill="#c2dfed"/>
<rect x="95.92" y="505.58" width="17.64" height="18.35" fill="#c0ddec"/>
<rect x="113.55" y="505.58" width="17.64" height="18.35" fill="#bcdbeb"/>
<rect x="131.19" y="505.58" width="17.64" height="18.35" fill="#bcdbeb"/>
<rect x="148.83" y="505.58" width="17.64" height="18.35" fill="#bcdbeb"/>
<rect x="166.47" y="505.58" width="17.64" height="18.35" fill="#bcdbeb"/>
<rect x="184.11" y="505.58" width="17.64" height="18.35" fill="#daebf3"/>
<rect x="201.75" y="505.58" width="17.64" height="18.35" fill="#daebf3"/>
<rect x="219.38" y="505.58" width="17.64" height="18.35" fill="#daebf3"/>
<rect x="237.02" y="505.58" width="17.64" height="18.35" fill="#daebf3"/>
<rect x="254.66" y="505.58" width="17.64" height="18.35" fill="#daebf3"/>
<rect x="43.00" y="523.94" width="17.64" height="18.35" fill="#c4dfed"/>
<rect x="60.64" y="523.94" width="17.64" height="18.35" fill="#c4dfed"/>
<rect x="78.28" y="523.94" width="17.64" height="18.35" fill="#c1deed"/>
<rect x="95.92" y="523.94" width="17.64" height="18.35" fill="#c1deed"/>
<rect x="113.55" y="523.94" width="17.64" height="18.35" fill="#bedcec"/>
<rect x="131.19" y="523.94" width="17.64" height="18.35" fill="#bedcec"/>
<rect x="148.83" y="523.94" width="17.64" height="18.35" fill="#bbdbeb"/>
<rect x="166.47" y="523.94" width="17.64" height="18.35" fill="#bbdbeb"/>
<rect x="184.11" y="523.94" width="17.64" height="18.35" fill="#daebf3"/>
<rect x="201.75" y="523.94" width="17.64" height="18.35" fill="#daebf3"/>
<rect x="219.38" y="523.94" width="17.64" height="18.35" fill="#daebf3"/>
<rect x="237.02" y="523.94" width="17.64" height="18.35" fill="#daebf3"/>
<rect x="254.66" y="523.94" width="17.64" height="18.35" fill="#daebf3"/>
<rect x="43.00" y="542.29" width="17.64" height="18.35" fill="#c7e1ee"/>
<rect x="60.64" y="542.29" width="17.64" height="18.35" fill="#c5e0ee"/>
<rect x="78.28" y="542.29" width="17.64" height="18.35" fill="#c5e0ee"/>
<rect x="95.92" y="542.29" width="17.64" height="18.35" fill="#c5e0ee"/>
<rect x="113.55" y="542.29" width="17.64" height="18.35" fill="#c5e0ee"/>
<rect x="131.19" y="542.29" width="17.64" height="18.35" fill="#c5e0ee"/>
<rect x="148.83" y="542.29" width="17.64" height="18.35" fill="#c2deed"/>
<rect x="166.47" y="542.29" width="17.64" height="18.35" fill="#c2deed"/>
<rect x="184.11" y="542.29" width="17.64" height="18.35" fill="#c2deed"/>
<rect x="201.75" y="542.29" width="17.64" height="18.35" fill="#c2deed"/>
<rect x="219.38" y="542.29" width="17.64" height="18.35" fill="#c2deed"/>
<rect x="237.02" y="542.29" width="17.64" height="18.35" fill="#d8eaf3"/>
<rect x="254.66" y="542.29" width="17.64" height="18.35" fill="#d8eaf3"/>
<rect x="43.00" y="560.65" width="17.64" height="18.35" fill="#c8e1ee"/>
<rect x="60.64" y="560.65" width="17.64" height="18.35" fill="#c8e1ee"/>
<rect x="78.28" y="560.65" width="17.64" height="18.35" fill="#c5e0ee"/>
<rect x="95.92" y="560.65" width="17.64" height="18.35" fill="#c5e0ee"/>
<rect x="113.55" y="560.65" width="17.64" height="18.35" fill="#c5e0ee"/>
<rect x="131.19" y="560.65" width="17.64" height="18.35" fill="#c5e0ee"/>
<rect x="148.83" y="560.65" width="17.64" height="18.35" fill="#c2deed"/>
<rect x="166.47" y="560.65" width="17.64" height="18.35" fill="#c2deed"/>
<rect x="184.11" y="560.65" width="17.64" height="18.35" fill="#c2deed"/>
<rect x="201.75" y="560.65" width="17.64" height="18.35" fill="#c2deed"/>
<rect x="219.38" y="560.65" width="17.64" height="18.35" fill="#d3e7f1"/>
<rect x="237.02" y="560.65" width="17.64" height="18.35" fill="#d3e7f1"/>
<rect x="254.66" y="560.65" width="17.64" height="18.35" fill="#d3e7f1"/>
<line x1="43.00" x2="43.00" y1="340.40" y2="579.00" stroke="rgba(38,38,38,0.55)" stroke-width="0.6"/>
<line x1="43.00" x2="272.30" y1="340.40" y2="340.40" stroke="rgba(38,38,38,0.55)" stroke-width="0.6"/>
<line x1="60.64" x2="60.64" y1="340.40" y2="579.00" stroke="rgba(38,38,38,0.55)" stroke-width="0.6"/>
<line x1="43.00" x2="272.30" y1="358.75" y2="358.75" stroke="rgba(38,38,38,0.55)" stroke-width="0.6"/>
<line x1="78.28" x2="78.28" y1="340.40" y2="579.00" stroke="rgba(38,38,38,0.55)" stroke-width="0.6"/>
<line x1="43.00" x2="272.30" y1="377.11" y2="377.11" stroke="rgba(38,38,38,0.55)" stroke-width="0.6"/>
<line x1="95.92" x2="95.92" y1="340.40" y2="579.00" stroke="rgba(38,38,38,0.55)" stroke-width="0.6"/>
<line x1="43.00" x2="272.30" y1="395.46" y2="395.46" stroke="rgba(38,38,38,0.55)" stroke-width="0.6"/>
<line x1="113.55" x2="113.55" y1="340.40" y2="579.00" stroke="rgba(38,38,38,0.55)" stroke-width="0.6"/>
<line x1="43.00" x2="272.30" y1="413.82" y2="413.82" stroke="rgba(38,38,38,0.55)" stroke-width="0.6"/>
<line x1="131.19" x2="131.19" y1="340.40" y2="579.00" stroke="rgba(38,38,38,0.55)" stroke-width="0.6"/>
<line x1="43.00" x2="272.30" y1="432.17" y2="432.17" stroke="rgba(38,38,38,0.55)" stroke-width="0.6"/>
<line x1="148.83" x2="148.83" y1="340.40" y2="579.00" stroke="rgba(38,38,38,0.55)" stroke-width="0.6"/>
<line x1="43.00" x2="272.30" y1="450.52" y2="450.52" stroke="rgba(38,38,38,0.55)" stroke-width="0.6"/>
<line x1="166.47" x2="166.47" y1="340.40" y2="579.00" stroke="rgba(38,38,38,0.55)" stroke-width="0.6"/>
<line x1="43.00" x2="272.30" y1="468.88" y2="468.88" stroke="rgba(38,38,38,0.55)" stroke-width="0.6"/>
<line x1="184.11" x2="184.11" y1="340.40" y2="579.00" stroke="rgba(38,38,38,0.55)" stroke-width="0.6"/>
<line x1="43.00" x2="272.30" y1="487.23" y2="487.23" stroke="rgba(38,38,38,0.55)" stroke-width="0.6"/>
<line x1="201.75" x2="201.75" y1="340.40" y2="579.00" stroke="rgba(38,38,38,0.55)" stroke-width="0.6"/>
<line x1="43.00" x2="272.30" y1="505.58" y2="505.58" stroke="rgba(38,38,38,0.55)" stroke-width="0.6"/>
<line x1="219.38" x2="219.38" y1="340.40" y2="579.00" stroke="rgba(38,38,38,0.55)" stroke-width="0.6"/>
<line x1="43.00" x2="272.30" y1="523.94" y2="523.94" stroke="rgba(38,38,38,0.55)" stroke-width="0.6"/>
<line x1="237.02" x2="237.02" y1="340.40" y2="579.00" stroke="rgba(38,38,38,0.55)" stroke-width="0.6"/>
<line x1="43.00" x2="272.30" y1="542.29" y2="542.29" stroke="rgba(38,38,38,0.55)" stroke-width="0.6"/>
<line x1="254.66" x2="254.66" y1="340.40" y2="579.00" stroke="rgba(38,38,38,0.55)" stroke-width="0.6"/>
<line x1="43.00" x2="272.30" y1="560.65" y2="560.65" stroke="rgba(38,38,38,0.55)" stroke-width="0.6"/>
<line x1="272.30" x2="272.30" y1="340.40" y2="579.00" stroke="rgba(38,38,38,0.42)" stroke-width="0.6"/>
<line x1="43.00" x2="272.30" y1="579.00" y2="579.00" stroke="rgba(38,38,38,0.42)" stroke-width="0.6"/>
<text transform="translate(140.01,352.78) scale(1,1.1)" font-size="7.04" fill="#ffffff" stroke="#ffffff" text-anchor="middle">150</text>
<text transform="translate(157.65,352.78) scale(1,1.1)" font-size="7.04" fill="#ffffff" stroke="#ffffff" text-anchor="middle">150</text>
<text transform="translate(175.29,352.78) scale(1,1.1)" font-size="7.04" fill="#ffffff" stroke="#ffffff" text-anchor="middle">150</text>
<text transform="translate(192.93,352.78) scale(1,1.1)" font-size="7.04" fill="#ffffff" stroke="#ffffff" text-anchor="middle">150</text>
<text transform="translate(210.57,352.78) scale(1,1.1)" font-size="7.04" fill="#ffffff" stroke="#ffffff" text-anchor="middle">150</text>
<text transform="translate(228.20,352.78) scale(1,1.1)" font-size="7.04" fill="#1c1c1c" stroke="#1c1c1c" text-anchor="middle">3.8</text>
<text transform="translate(245.84,352.78) scale(1,1.1)" font-size="7.04" fill="#1c1c1c" stroke="#1c1c1c" text-anchor="middle">3.8</text>
<text transform="translate(263.48,352.78) scale(1,1.1)" font-size="7.04" fill="#1c1c1c" stroke="#1c1c1c" text-anchor="middle">3.8</text>
<text transform="translate(122.37,371.13) scale(1,1.1)" font-size="7.04" fill="#ffffff" stroke="#ffffff" text-anchor="middle">150</text>
<text transform="translate(140.01,371.13) scale(1,1.1)" font-size="7.04" fill="#ffffff" stroke="#ffffff" text-anchor="middle">150</text>
<text transform="translate(157.65,371.13) scale(1,1.1)" font-size="7.04" fill="#ffffff" stroke="#ffffff" text-anchor="middle">150</text>
<text transform="translate(175.29,371.13) scale(1,1.1)" font-size="7.04" fill="#ffffff" stroke="#ffffff" text-anchor="middle">150</text>
<text transform="translate(192.93,371.13) scale(1,1.1)" font-size="7.04" fill="#ffffff" stroke="#ffffff" text-anchor="middle">150</text>
<text transform="translate(210.57,371.13) scale(1,1.1)" font-size="7.04" fill="#ffffff" stroke="#ffffff" text-anchor="middle">150</text>
<text transform="translate(228.20,371.13) scale(1,1.1)" font-size="7.04" fill="#1c1c1c" stroke="#1c1c1c" text-anchor="middle">5.8</text>
<text transform="translate(245.84,371.13) scale(1,1.1)" font-size="7.04" fill="#1c1c1c" stroke="#1c1c1c" text-anchor="middle">5.8</text>
<text transform="translate(263.48,371.13) scale(1,1.1)" font-size="7.04" fill="#1c1c1c" stroke="#1c1c1c" text-anchor="middle">5.8</text>
<text transform="translate(122.37,389.48) scale(1,1.1)" font-size="7.04" fill="#1c1c1c" stroke="#1c1c1c" text-anchor="middle">61.9</text>
<text transform="translate(140.01,389.48) scale(1,1.1)" font-size="7.04" fill="#ffffff" stroke="#ffffff" text-anchor="middle">150</text>
<text transform="translate(157.65,389.48) scale(1,1.1)" font-size="7.04" fill="#ffffff" stroke="#ffffff" text-anchor="middle">150</text>
<text transform="translate(175.29,389.48) scale(1,1.1)" font-size="7.04" fill="#ffffff" stroke="#ffffff" text-anchor="middle">150</text>
<text transform="translate(192.93,389.48) scale(1,1.1)" font-size="7.04" fill="#ffffff" stroke="#ffffff" text-anchor="middle">150</text>
<text transform="translate(210.57,389.48) scale(1,1.1)" font-size="7.04" fill="#ffffff" stroke="#ffffff" text-anchor="middle">150</text>
<text transform="translate(228.20,389.48) scale(1,1.1)" font-size="7.04" fill="#1c1c1c" stroke="#1c1c1c" text-anchor="middle">5.8</text>
<text transform="translate(245.84,389.48) scale(1,1.1)" font-size="7.04" fill="#1c1c1c" stroke="#1c1c1c" text-anchor="middle">5.8</text>
<text transform="translate(263.48,389.48) scale(1,1.1)" font-size="7.04" fill="#1c1c1c" stroke="#1c1c1c" text-anchor="middle">5.8</text>
<text transform="translate(104.73,407.84) scale(1,1.1)" font-size="7.04" fill="#1c1c1c" stroke="#1c1c1c" text-anchor="middle">47.1</text>
<text transform="translate(122.37,407.84) scale(1,1.1)" font-size="7.04" fill="#1c1c1c" stroke="#1c1c1c" text-anchor="middle">56</text>
<text transform="translate(140.01,407.84) scale(1,1.1)" font-size="7.04" fill="#1c1c1c" stroke="#1c1c1c" text-anchor="middle">77.3</text>
<text transform="translate(157.65,407.84) scale(1,1.1)" font-size="7.04" fill="#ffffff" stroke="#ffffff" text-anchor="middle">150</text>
<text transform="translate(175.29,407.84) scale(1,1.1)" font-size="7.04" fill="#ffffff" stroke="#ffffff" text-anchor="middle">150</text>
<text transform="translate(192.93,407.84) scale(1,1.1)" font-size="7.04" fill="#ffffff" stroke="#ffffff" text-anchor="middle">150</text>
<text transform="translate(210.57,407.84) scale(1,1.1)" font-size="7.04" fill="#ffffff" stroke="#ffffff" text-anchor="middle">150</text>
<text transform="translate(228.20,407.84) scale(1,1.1)" font-size="7.04" fill="#1c1c1c" stroke="#1c1c1c" text-anchor="middle">5.8</text>
<text transform="translate(245.84,407.84) scale(1,1.1)" font-size="7.04" fill="#1c1c1c" stroke="#1c1c1c" text-anchor="middle">5.8</text>
<text transform="translate(263.48,407.84) scale(1,1.1)" font-size="7.04" fill="#1c1c1c" stroke="#1c1c1c" text-anchor="middle">5.8</text>
<text transform="translate(87.10,426.19) scale(1,1.1)" font-size="7.04" fill="#1c1c1c" stroke="#1c1c1c" text-anchor="middle">36.6</text>
<text transform="translate(104.73,426.19) scale(1,1.1)" font-size="7.04" fill="#1c1c1c" stroke="#1c1c1c" text-anchor="middle">36.8</text>
<text transform="translate(122.37,426.19) scale(1,1.1)" font-size="7.04" fill="#1c1c1c" stroke="#1c1c1c" text-anchor="middle">56</text>
<text transform="translate(140.01,426.19) scale(1,1.1)" font-size="7.04" fill="#1c1c1c" stroke="#1c1c1c" text-anchor="middle">77.5</text>
<text transform="translate(157.65,426.19) scale(1,1.1)" font-size="7.04" fill="#ffffff" stroke="#ffffff" text-anchor="middle">150</text>
<text transform="translate(175.29,426.19) scale(1,1.1)" font-size="7.04" fill="#ffffff" stroke="#ffffff" text-anchor="middle">150</text>
<text transform="translate(192.93,426.19) scale(1,1.1)" font-size="7.04" fill="#ffffff" stroke="#ffffff" text-anchor="middle">150</text>
<text transform="translate(210.57,426.19) scale(1,1.1)" font-size="7.04" fill="#ffffff" stroke="#ffffff" text-anchor="middle">150</text>
<text transform="translate(228.20,426.19) scale(1,1.1)" font-size="7.04" fill="#1c1c1c" stroke="#1c1c1c" text-anchor="middle">5.8</text>
<text transform="translate(245.84,426.19) scale(1,1.1)" font-size="7.04" fill="#1c1c1c" stroke="#1c1c1c" text-anchor="middle">5.8</text>
<text transform="translate(263.48,426.19) scale(1,1.1)" font-size="7.04" fill="#1c1c1c" stroke="#1c1c1c" text-anchor="middle">5.8</text>
<text transform="translate(69.46,444.55) scale(1,1.1)" font-size="7.04" fill="#1c1c1c" stroke="#1c1c1c" text-anchor="middle">31.1</text>
<text transform="translate(87.10,444.55) scale(1,1.1)" font-size="7.04" fill="#1c1c1c" stroke="#1c1c1c" text-anchor="middle">36.9</text>
<text transform="translate(104.73,444.55) scale(1,1.1)" font-size="7.04" fill="#1c1c1c" stroke="#1c1c1c" text-anchor="middle">36.9</text>
<text transform="translate(122.37,444.55) scale(1,1.1)" font-size="7.04" fill="#1c1c1c" stroke="#1c1c1c" text-anchor="middle">44.2</text>
<text transform="translate(140.01,444.55) scale(1,1.1)" font-size="7.04" fill="#1c1c1c" stroke="#1c1c1c" text-anchor="middle">43.9</text>
<text transform="translate(157.65,444.55) scale(1,1.1)" font-size="7.04" fill="#1c1c1c" stroke="#1c1c1c" text-anchor="middle">57.5</text>
<text transform="translate(175.29,444.55) scale(1,1.1)" font-size="7.04" fill="#1c1c1c" stroke="#1c1c1c" text-anchor="middle">73.1</text>
<text transform="translate(192.93,444.55) scale(1,1.1)" font-size="7.04" fill="#1c1c1c" stroke="#1c1c1c" text-anchor="middle">73.1</text>
<text transform="translate(210.57,444.55) scale(1,1.1)" font-size="7.04" fill="#1c1c1c" stroke="#1c1c1c" text-anchor="middle">73.1</text>
<text transform="translate(228.20,444.55) scale(1,1.1)" font-size="7.04" fill="#1c1c1c" stroke="#1c1c1c" text-anchor="middle">56.7</text>
<text transform="translate(245.84,444.55) scale(1,1.1)" font-size="7.04" fill="#1c1c1c" stroke="#1c1c1c" text-anchor="middle">7.4</text>
<text transform="translate(263.48,444.55) scale(1,1.1)" font-size="7.04" fill="#1c1c1c" stroke="#1c1c1c" text-anchor="middle">7.4</text>
<text transform="translate(69.46,462.90) scale(1,1.1)" font-size="7.04" fill="#1c1c1c" stroke="#1c1c1c" text-anchor="middle">30.1</text>
<text transform="translate(87.10,462.90) scale(1,1.1)" font-size="7.04" fill="#1c1c1c" stroke="#1c1c1c" text-anchor="middle">32.6</text>
<text transform="translate(104.73,462.90) scale(1,1.1)" font-size="7.04" fill="#1c1c1c" stroke="#1c1c1c" text-anchor="middle">34.1</text>
<text transform="translate(122.37,462.90) scale(1,1.1)" font-size="7.04" fill="#1c1c1c" stroke="#1c1c1c" text-anchor="middle">34.1</text>
<text transform="translate(140.01,462.90) scale(1,1.1)" font-size="7.04" fill="#1c1c1c" stroke="#1c1c1c" text-anchor="middle">34.1</text>
<text transform="translate(157.65,462.90) scale(1,1.1)" font-size="7.04" fill="#1c1c1c" stroke="#1c1c1c" text-anchor="middle">48.1</text>
<text transform="translate(175.29,462.90) scale(1,1.1)" font-size="7.04" fill="#1c1c1c" stroke="#1c1c1c" text-anchor="middle">73.1</text>
<text transform="translate(192.93,462.90) scale(1,1.1)" font-size="7.04" fill="#1c1c1c" stroke="#1c1c1c" text-anchor="middle">73.1</text>
<text transform="translate(210.57,462.90) scale(1,1.1)" font-size="7.04" fill="#1c1c1c" stroke="#1c1c1c" text-anchor="middle">73.1</text>
<text transform="translate(228.20,462.90) scale(1,1.1)" font-size="7.04" fill="#1c1c1c" stroke="#1c1c1c" text-anchor="middle">56.7</text>
<text transform="translate(245.84,462.90) scale(1,1.1)" font-size="7.04" fill="#1c1c1c" stroke="#1c1c1c" text-anchor="middle">7.4</text>
<text transform="translate(263.48,462.90) scale(1,1.1)" font-size="7.04" fill="#1c1c1c" stroke="#1c1c1c" text-anchor="middle">7.4</text>
<text transform="translate(51.82,481.25) scale(1,1.1)" font-size="7.04" fill="#1c1c1c" stroke="#1c1c1c" text-anchor="middle">26.7</text>
<text transform="translate(69.46,481.25) scale(1,1.1)" font-size="7.04" fill="#1c1c1c" stroke="#1c1c1c" text-anchor="middle">28</text>
<text transform="translate(87.10,481.25) scale(1,1.1)" font-size="7.04" fill="#1c1c1c" stroke="#1c1c1c" text-anchor="middle">32.6</text>
<text transform="translate(104.73,481.25) scale(1,1.1)" font-size="7.04" fill="#1c1c1c" stroke="#1c1c1c" text-anchor="middle">34.1</text>
<text transform="translate(122.37,481.25) scale(1,1.1)" font-size="7.04" fill="#1c1c1c" stroke="#1c1c1c" text-anchor="middle">34.1</text>
<text transform="translate(140.01,481.25) scale(1,1.1)" font-size="7.04" fill="#1c1c1c" stroke="#1c1c1c" text-anchor="middle">34.1</text>
<text transform="translate(157.65,481.25) scale(1,1.1)" font-size="7.04" fill="#1c1c1c" stroke="#1c1c1c" text-anchor="middle">48.4</text>
<text transform="translate(175.29,481.25) scale(1,1.1)" font-size="7.04" fill="#1c1c1c" stroke="#1c1c1c" text-anchor="middle">66.5</text>
<text transform="translate(192.93,481.25) scale(1,1.1)" font-size="7.04" fill="#1c1c1c" stroke="#1c1c1c" text-anchor="middle">68.5</text>
<text transform="translate(210.57,481.25) scale(1,1.1)" font-size="7.04" fill="#1c1c1c" stroke="#1c1c1c" text-anchor="middle">68.5</text>
<text transform="translate(228.20,481.25) scale(1,1.1)" font-size="7.04" fill="#1c1c1c" stroke="#1c1c1c" text-anchor="middle">68.5</text>
<text transform="translate(245.84,481.25) scale(1,1.1)" font-size="7.04" fill="#1c1c1c" stroke="#1c1c1c" text-anchor="middle">7.4</text>
<text transform="translate(263.48,481.25) scale(1,1.1)" font-size="7.04" fill="#1c1c1c" stroke="#1c1c1c" text-anchor="middle">7.4</text>
<text transform="translate(51.82,499.61) scale(1,1.1)" font-size="7.04" fill="#1c1c1c" stroke="#1c1c1c" text-anchor="middle">24.6</text>
<text transform="translate(69.46,499.61) scale(1,1.1)" font-size="7.04" fill="#1c1c1c" stroke="#1c1c1c" text-anchor="middle">26.6</text>
<text transform="translate(87.10,499.61) scale(1,1.1)" font-size="7.04" fill="#1c1c1c" stroke="#1c1c1c" text-anchor="middle">33</text>
<text transform="translate(104.73,499.61) scale(1,1.1)" font-size="7.04" fill="#1c1c1c" stroke="#1c1c1c" text-anchor="middle">33</text>
<text transform="translate(122.37,499.61) scale(1,1.1)" font-size="7.04" fill="#1c1c1c" stroke="#1c1c1c" text-anchor="middle">34.5</text>
<text transform="translate(140.01,499.61) scale(1,1.1)" font-size="7.04" fill="#1c1c1c" stroke="#1c1c1c" text-anchor="middle">34.5</text>
<text transform="translate(157.65,499.61) scale(1,1.1)" font-size="7.04" fill="#1c1c1c" stroke="#1c1c1c" text-anchor="middle">35.4</text>
<text transform="translate(175.29,499.61) scale(1,1.1)" font-size="7.04" fill="#1c1c1c" stroke="#1c1c1c" text-anchor="middle">35.4</text>
<text transform="translate(192.93,499.61) scale(1,1.1)" font-size="7.04" fill="#1c1c1c" stroke="#1c1c1c" text-anchor="middle">44</text>
<text transform="translate(210.57,499.61) scale(1,1.1)" font-size="7.04" fill="#1c1c1c" stroke="#1c1c1c" text-anchor="middle">16</text>
<text transform="translate(228.20,499.61) scale(1,1.1)" font-size="7.04" fill="#1c1c1c" stroke="#1c1c1c" text-anchor="middle">16</text>
<text transform="translate(245.84,499.61) scale(1,1.1)" font-size="7.04" fill="#1c1c1c" stroke="#1c1c1c" text-anchor="middle">7.4</text>
<text transform="translate(263.48,499.61) scale(1,1.1)" font-size="7.04" fill="#1c1c1c" stroke="#1c1c1c" text-anchor="middle">7.4</text>
<text transform="translate(51.82,517.96) scale(1,1.1)" font-size="7.04" fill="#1c1c1c" stroke="#1c1c1c" text-anchor="middle">25</text>
<text transform="translate(69.46,517.96) scale(1,1.1)" font-size="7.04" fill="#1c1c1c" stroke="#1c1c1c" text-anchor="middle">25</text>
<text transform="translate(87.10,517.96) scale(1,1.1)" font-size="7.04" fill="#1c1c1c" stroke="#1c1c1c" text-anchor="middle">25</text>
<text transform="translate(104.73,517.96) scale(1,1.1)" font-size="7.04" fill="#1c1c1c" stroke="#1c1c1c" text-anchor="middle">26.7</text>
<text transform="translate(122.37,517.96) scale(1,1.1)" font-size="7.04" fill="#1c1c1c" stroke="#1c1c1c" text-anchor="middle">29.3</text>
<text transform="translate(140.01,517.96) scale(1,1.1)" font-size="7.04" fill="#1c1c1c" stroke="#1c1c1c" text-anchor="middle">29.3</text>
<text transform="translate(157.65,517.96) scale(1,1.1)" font-size="7.04" fill="#1c1c1c" stroke="#1c1c1c" text-anchor="middle">29.3</text>
<text transform="translate(175.29,517.96) scale(1,1.1)" font-size="7.04" fill="#1c1c1c" stroke="#1c1c1c" text-anchor="middle">29.3</text>
<text transform="translate(192.93,517.96) scale(1,1.1)" font-size="7.04" fill="#1c1c1c" stroke="#1c1c1c" text-anchor="middle">9</text>
<text transform="translate(210.57,517.96) scale(1,1.1)" font-size="7.04" fill="#1c1c1c" stroke="#1c1c1c" text-anchor="middle">9</text>
<text transform="translate(228.20,517.96) scale(1,1.1)" font-size="7.04" fill="#1c1c1c" stroke="#1c1c1c" text-anchor="middle">9</text>
<text transform="translate(245.84,517.96) scale(1,1.1)" font-size="7.04" fill="#1c1c1c" stroke="#1c1c1c" text-anchor="middle">9</text>
<text transform="translate(263.48,517.96) scale(1,1.1)" font-size="7.04" fill="#1c1c1c" stroke="#1c1c1c" text-anchor="middle">9</text>
<text transform="translate(51.82,536.32) scale(1,1.1)" font-size="7.04" fill="#1c1c1c" stroke="#1c1c1c" text-anchor="middle">24.2</text>
<text transform="translate(69.46,536.32) scale(1,1.1)" font-size="7.04" fill="#1c1c1c" stroke="#1c1c1c" text-anchor="middle">24.2</text>
<text transform="translate(87.10,536.32) scale(1,1.1)" font-size="7.04" fill="#1c1c1c" stroke="#1c1c1c" text-anchor="middle">25.6</text>
<text transform="translate(104.73,536.32) scale(1,1.1)" font-size="7.04" fill="#1c1c1c" stroke="#1c1c1c" text-anchor="middle">25.6</text>
<text transform="translate(122.37,536.32) scale(1,1.1)" font-size="7.04" fill="#1c1c1c" stroke="#1c1c1c" text-anchor="middle">28.1</text>
<text transform="translate(140.01,536.32) scale(1,1.1)" font-size="7.04" fill="#1c1c1c" stroke="#1c1c1c" text-anchor="middle">28.1</text>
<text transform="translate(157.65,536.32) scale(1,1.1)" font-size="7.04" fill="#1c1c1c" stroke="#1c1c1c" text-anchor="middle">30.1</text>
<text transform="translate(175.29,536.32) scale(1,1.1)" font-size="7.04" fill="#1c1c1c" stroke="#1c1c1c" text-anchor="middle">30.1</text>
<text transform="translate(192.93,536.32) scale(1,1.1)" font-size="7.04" fill="#1c1c1c" stroke="#1c1c1c" text-anchor="middle">9</text>
<text transform="translate(210.57,536.32) scale(1,1.1)" font-size="7.04" fill="#1c1c1c" stroke="#1c1c1c" text-anchor="middle">9</text>
<text transform="translate(228.20,536.32) scale(1,1.1)" font-size="7.04" fill="#1c1c1c" stroke="#1c1c1c" text-anchor="middle">9</text>
<text transform="translate(245.84,536.32) scale(1,1.1)" font-size="7.04" fill="#1c1c1c" stroke="#1c1c1c" text-anchor="middle">9</text>
<text transform="translate(263.48,536.32) scale(1,1.1)" font-size="7.04" fill="#1c1c1c" stroke="#1c1c1c" text-anchor="middle">9</text>
<text transform="translate(51.82,554.67) scale(1,1.1)" font-size="7.04" fill="#1c1c1c" stroke="#1c1c1c" text-anchor="middle">21.6</text>
<text transform="translate(69.46,554.67) scale(1,1.1)" font-size="7.04" fill="#1c1c1c" stroke="#1c1c1c" text-anchor="middle">23.3</text>
<text transform="translate(87.10,554.67) scale(1,1.1)" font-size="7.04" fill="#1c1c1c" stroke="#1c1c1c" text-anchor="middle">23.3</text>
<text transform="translate(104.73,554.67) scale(1,1.1)" font-size="7.04" fill="#1c1c1c" stroke="#1c1c1c" text-anchor="middle">23.3</text>
<text transform="translate(122.37,554.67) scale(1,1.1)" font-size="7.04" fill="#1c1c1c" stroke="#1c1c1c" text-anchor="middle">23.3</text>
<text transform="translate(140.01,554.67) scale(1,1.1)" font-size="7.04" fill="#1c1c1c" stroke="#1c1c1c" text-anchor="middle">23.3</text>
<text transform="translate(157.65,554.67) scale(1,1.1)" font-size="7.04" fill="#1c1c1c" stroke="#1c1c1c" text-anchor="middle">25.4</text>
<text transform="translate(175.29,554.67) scale(1,1.1)" font-size="7.04" fill="#1c1c1c" stroke="#1c1c1c" text-anchor="middle">25.4</text>
<text transform="translate(192.93,554.67) scale(1,1.1)" font-size="7.04" fill="#1c1c1c" stroke="#1c1c1c" text-anchor="middle">25.4</text>
<text transform="translate(210.57,554.67) scale(1,1.1)" font-size="7.04" fill="#1c1c1c" stroke="#1c1c1c" text-anchor="middle">25.4</text>
<text transform="translate(228.20,554.67) scale(1,1.1)" font-size="7.04" fill="#1c1c1c" stroke="#1c1c1c" text-anchor="middle">25.4</text>
<text transform="translate(245.84,554.67) scale(1,1.1)" font-size="7.04" fill="#1c1c1c" stroke="#1c1c1c" text-anchor="middle">10.5</text>
<text transform="translate(263.48,554.67) scale(1,1.1)" font-size="7.04" fill="#1c1c1c" stroke="#1c1c1c" text-anchor="middle">10.5</text>
<text transform="translate(51.82,573.02) scale(1,1.1)" font-size="7.04" fill="#1c1c1c" stroke="#1c1c1c" text-anchor="middle">21.4</text>
<text transform="translate(69.46,573.02) scale(1,1.1)" font-size="7.04" fill="#1c1c1c" stroke="#1c1c1c" text-anchor="middle">21.4</text>
<text transform="translate(87.10,573.02) scale(1,1.1)" font-size="7.04" fill="#1c1c1c" stroke="#1c1c1c" text-anchor="middle">23.1</text>
<text transform="translate(104.73,573.02) scale(1,1.1)" font-size="7.04" fill="#1c1c1c" stroke="#1c1c1c" text-anchor="middle">23.1</text>
<text transform="translate(122.37,573.02) scale(1,1.1)" font-size="7.04" fill="#1c1c1c" stroke="#1c1c1c" text-anchor="middle">23.1</text>
<text transform="translate(140.01,573.02) scale(1,1.1)" font-size="7.04" fill="#1c1c1c" stroke="#1c1c1c" text-anchor="middle">23.1</text>
<text transform="translate(157.65,573.02) scale(1,1.1)" font-size="7.04" fill="#1c1c1c" stroke="#1c1c1c" text-anchor="middle">25.1</text>
<text transform="translate(175.29,573.02) scale(1,1.1)" font-size="7.04" fill="#1c1c1c" stroke="#1c1c1c" text-anchor="middle">25.1</text>
<text transform="translate(192.93,573.02) scale(1,1.1)" font-size="7.04" fill="#1c1c1c" stroke="#1c1c1c" text-anchor="middle">25.1</text>
<text transform="translate(210.57,573.02) scale(1,1.1)" font-size="7.04" fill="#1c1c1c" stroke="#1c1c1c" text-anchor="middle">25.1</text>
<text transform="translate(228.20,573.02) scale(1,1.1)" font-size="7.04" fill="#1c1c1c" stroke="#1c1c1c" text-anchor="middle">13.6</text>
<text transform="translate(245.84,573.02) scale(1,1.1)" font-size="7.04" fill="#1c1c1c" stroke="#1c1c1c" text-anchor="middle">13.6</text>
<text transform="translate(263.48,573.02) scale(1,1.1)" font-size="7.04" fill="#1c1c1c" stroke="#1c1c1c" text-anchor="middle">13.6</text>
<text transform="translate(40.20,352.78) scale(1,1.1)" font-size="7.19" fill="#262626" stroke="#262626" text-anchor="end">45.00</text>
<text transform="translate(40.20,371.13) scale(1,1.1)" font-size="7.19" fill="#262626" stroke="#262626" text-anchor="end">41.67</text>
<text transform="translate(40.20,389.48) scale(1,1.1)" font-size="7.19" fill="#262626" stroke="#262626" text-anchor="end">38.33</text>
<text transform="translate(40.20,407.84) scale(1,1.1)" font-size="7.19" fill="#262626" stroke="#262626" text-anchor="end">35.00</text>
<text transform="translate(40.20,426.19) scale(1,1.1)" font-size="7.19" fill="#262626" stroke="#262626" text-anchor="end">31.67</text>
<text transform="translate(40.20,444.55) scale(1,1.1)" font-size="7.19" fill="#262626" stroke="#262626" text-anchor="end">28.33</text>
<text transform="translate(40.20,462.90) scale(1,1.1)" font-size="7.19" fill="#262626" stroke="#262626" text-anchor="end">25.00</text>
<text transform="translate(40.20,481.25) scale(1,1.1)" font-size="7.19" fill="#262626" stroke="#262626" text-anchor="end">21.67</text>
<text transform="translate(40.20,499.61) scale(1,1.1)" font-size="7.19" fill="#262626" stroke="#262626" text-anchor="end">18.33</text>
<text transform="translate(40.20,517.96) scale(1,1.1)" font-size="7.19" fill="#262626" stroke="#262626" text-anchor="end">15.00</text>
<text transform="translate(40.20,536.32) scale(1,1.1)" font-size="7.19" fill="#262626" stroke="#262626" text-anchor="end">11.67</text>
<text transform="translate(40.20,554.67) scale(1,1.1)" font-size="7.19" fill="#262626" stroke="#262626" text-anchor="end">8.33</text>
<text transform="translate(40.20,573.02) scale(1,1.1)" font-size="7.19" fill="#262626" stroke="#262626" text-anchor="end">5.00</text>
<text transform="translate(55.12,585.50) rotate(-45) scale(1,1.1)" font-size="7.19" fill="#262626" stroke="#262626" text-anchor="end" dominant-baseline="auto" dy="2.5">25.00</text>
<text transform="translate(72.76,585.50) rotate(-45) scale(1,1.1)" font-size="7.19" fill="#262626" stroke="#262626" text-anchor="end" dominant-baseline="auto" dy="2.5">29.17</text>
<text transform="translate(90.40,585.50) rotate(-45) scale(1,1.1)" font-size="7.19" fill="#262626" stroke="#262626" text-anchor="end" dominant-baseline="auto" dy="2.5">33.33</text>
<text transform="translate(108.03,585.50) rotate(-45) scale(1,1.1)" font-size="7.19" fill="#262626" stroke="#262626" text-anchor="end" dominant-baseline="auto" dy="2.5">37.50</text>
<text transform="translate(125.67,585.50) rotate(-45) scale(1,1.1)" font-size="7.19" fill="#262626" stroke="#262626" text-anchor="end" dominant-baseline="auto" dy="2.5">41.67</text>
<text transform="translate(143.31,585.50) rotate(-45) scale(1,1.1)" font-size="7.19" fill="#262626" stroke="#262626" text-anchor="end" dominant-baseline="auto" dy="2.5">45.83</text>
<text transform="translate(160.95,585.50) rotate(-45) scale(1,1.1)" font-size="7.19" fill="#262626" stroke="#262626" text-anchor="end" dominant-baseline="auto" dy="2.5">50.00</text>
<text transform="translate(178.59,585.50) rotate(-45) scale(1,1.1)" font-size="7.19" fill="#262626" stroke="#262626" text-anchor="end" dominant-baseline="auto" dy="2.5">54.17</text>
<text transform="translate(196.23,585.50) rotate(-45) scale(1,1.1)" font-size="7.19" fill="#262626" stroke="#262626" text-anchor="end" dominant-baseline="auto" dy="2.5">58.33</text>
<text transform="translate(213.87,585.50) rotate(-45) scale(1,1.1)" font-size="7.19" fill="#262626" stroke="#262626" text-anchor="end" dominant-baseline="auto" dy="2.5">62.50</text>
<text transform="translate(231.50,585.50) rotate(-45) scale(1,1.1)" font-size="7.19" fill="#262626" stroke="#262626" text-anchor="end" dominant-baseline="auto" dy="2.5">66.67</text>
<text transform="translate(249.14,585.50) rotate(-45) scale(1,1.1)" font-size="7.19" fill="#262626" stroke="#262626" text-anchor="end" dominant-baseline="auto" dy="2.5">70.83</text>
<text transform="translate(266.78,585.50) rotate(-45) scale(1,1.1)" font-size="7.19" fill="#262626" stroke="#262626" text-anchor="end" dominant-baseline="auto" dy="2.5">75.00</text>
<text x="157.65" y="609.50" font-size="8.12" fill="#1c1c1c" stroke="#1c1c1c" text-anchor="middle">Upper size bound: Rx<tspan font-size="7.14" dy="4.6">on</tspan></text>
<text transform="translate(15.20,459.70) rotate(-90)" font-size="8.12" fill="#1c1c1c" stroke="#1c1c1c" text-anchor="middle">Lower size bound: Rx<tspan font-size="7.14" dy="4.6">off</tspan></text>
<rect x="276.50" y="340.40" width="8.20" height="226.00" fill="url(#cb)" stroke="rgba(38,38,38,0.55)" stroke-width="0.5"/>
<rect x="276.50" y="571.60" width="8.20" height="7.40" fill="#262626"/>
<line x1="282.80" x2="284.70" y1="566.40" y2="566.40" stroke="rgba(38,38,38,0.8)" stroke-width="0.55"/>
<text x="287.60" y="569.10" font-size="6.36" fill="#1c1c1c" stroke="#1c1c1c">0</text>
<line x1="282.80" x2="284.70" y1="491.07" y2="491.07" stroke="rgba(38,38,38,0.8)" stroke-width="0.55"/>
<text x="287.60" y="493.77" font-size="6.36" fill="#1c1c1c" stroke="#1c1c1c">50</text>
<line x1="282.80" x2="284.70" y1="415.73" y2="415.73" stroke="rgba(38,38,38,0.8)" stroke-width="0.55"/>
<text x="287.60" y="418.43" font-size="6.36" fill="#1c1c1c" stroke="#1c1c1c">100</text>
<line x1="282.80" x2="284.70" y1="340.40" y2="340.40" stroke="rgba(38,38,38,0.8)" stroke-width="0.55"/>
<text x="287.60" y="343.10" font-size="6.36" fill="#1c1c1c" stroke="#1c1c1c">150</text>
<text x="287.60" y="578.10" font-size="6.36" fill="#1c1c1c" stroke="#1c1c1c">NaN</text>
<text transform="translate(383.3,328) scale(1.09,1)" font-size="14.6" font-weight="bold" fill="#000" stroke="#000">D</text>
<text x="537.33" y="336.60" font-size="8.02" font-weight="bold" fill="#1c1c1c" stroke="#1c1c1c" text-anchor="middle">Adaptive + Toxicity: TTP(daily+tox) = 59.8</text>
<rect x="422.55" y="340.40" width="229.55" height="238.60" fill="#262626"/>
<rect x="510.84" y="340.40" width="17.66" height="18.35" fill="#cfe5f0"/>
<rect x="528.50" y="340.40" width="17.66" height="18.35" fill="#cfe5f0"/>
<rect x="546.15" y="340.40" width="17.66" height="18.35" fill="#c4dfed"/>
<rect x="563.81" y="340.40" width="17.66" height="18.35" fill="#c4dfed"/>
<rect x="581.47" y="340.40" width="17.66" height="18.35" fill="#c4dfed"/>
<rect x="599.13" y="340.40" width="17.66" height="18.35" fill="#e2eff5"/>
<rect x="616.78" y="340.40" width="17.66" height="18.35" fill="#e2eff5"/>
<rect x="634.44" y="340.40" width="17.66" height="18.35" fill="#e2eff5"/>
<rect x="493.18" y="358.75" width="17.66" height="18.35" fill="#c1deed"/>
<rect x="510.84" y="358.75" width="17.66" height="18.35" fill="#c1deed"/>
<rect x="528.50" y="358.75" width="17.66" height="18.35" fill="#c1deed"/>
<rect x="546.15" y="358.75" width="17.66" height="18.35" fill="#c1deed"/>
<rect x="563.81" y="358.75" width="17.66" height="18.35" fill="#c1deed"/>
<rect x="581.47" y="358.75" width="17.66" height="18.35" fill="#c1deed"/>
<rect x="599.13" y="358.75" width="17.66" height="18.35" fill="#dfedf5"/>
<rect x="616.78" y="358.75" width="17.66" height="18.35" fill="#dfedf5"/>
<rect x="634.44" y="358.75" width="17.66" height="18.35" fill="#dfedf5"/>
<rect x="493.18" y="377.11" width="17.66" height="18.35" fill="#c1deed"/>
<rect x="510.84" y="377.11" width="17.66" height="18.35" fill="#c1deed"/>
<rect x="528.50" y="377.11" width="17.66" height="18.35" fill="#c1deed"/>
<rect x="546.15" y="377.11" width="17.66" height="18.35" fill="#c1deed"/>
<rect x="563.81" y="377.11" width="17.66" height="18.35" fill="#c1deed"/>
<rect x="581.47" y="377.11" width="17.66" height="18.35" fill="#c1deed"/>
<rect x="599.13" y="377.11" width="17.66" height="18.35" fill="#dfedf5"/>
<rect x="616.78" y="377.11" width="17.66" height="18.35" fill="#dfedf5"/>
<rect x="634.44" y="377.11" width="17.66" height="18.35" fill="#dfedf5"/>
<rect x="475.52" y="395.46" width="17.66" height="18.35" fill="#c1deed"/>
<rect x="493.18" y="395.46" width="17.66" height="18.35" fill="#c1deed"/>
<rect x="510.84" y="395.46" width="17.66" height="18.35" fill="#c1deed"/>
<rect x="528.50" y="395.46" width="17.66" height="18.35" fill="#c1deed"/>
<rect x="546.15" y="395.46" width="17.66" height="18.35" fill="#c1deed"/>
<rect x="563.81" y="395.46" width="17.66" height="18.35" fill="#c1deed"/>
<rect x="581.47" y="395.46" width="17.66" height="18.35" fill="#c1deed"/>
<rect x="599.13" y="395.46" width="17.66" height="18.35" fill="#dfedf5"/>
<rect x="616.78" y="395.46" width="17.66" height="18.35" fill="#dfedf5"/>
<rect x="634.44" y="395.46" width="17.66" height="18.35" fill="#dfedf5"/>
<rect x="457.87" y="413.82" width="17.66" height="18.35" fill="#c1deed"/>
<rect x="475.52" y="413.82" width="17.66" height="18.35" fill="#c1deed"/>
<rect x="493.18" y="413.82" width="17.66" height="18.35" fill="#c1deed"/>
<rect x="510.84" y="413.82" width="17.66" height="18.35" fill="#c1deed"/>
<rect x="528.50" y="413.82" width="17.66" height="18.35" fill="#c1deed"/>
<rect x="546.15" y="413.82" width="17.66" height="18.35" fill="#c1deed"/>
<rect x="563.81" y="413.82" width="17.66" height="18.35" fill="#c1deed"/>
<rect x="581.47" y="413.82" width="17.66" height="18.35" fill="#c1deed"/>
<rect x="599.13" y="413.82" width="17.66" height="18.35" fill="#dfedf5"/>
<rect x="616.78" y="413.82" width="17.66" height="18.35" fill="#dfedf5"/>
<rect x="634.44" y="413.82" width="17.66" height="18.35" fill="#dfedf5"/>
<rect x="440.21" y="432.17" width="17.66" height="18.35" fill="#78b4d8"/>
<rect x="457.87" y="432.17" width="17.66" height="18.35" fill="#78b4d8"/>
<rect x="475.52" y="432.17" width="17.66" height="18.35" fill="#78b4d8"/>
<rect x="493.18" y="432.17" width="17.66" height="18.35" fill="#78b4d8"/>
<rect x="510.84" y="432.17" width="17.66" height="18.35" fill="#78b4d8"/>
<rect x="528.50" y="432.17" width="17.66" height="18.35" fill="#78b4d8"/>
<rect x="546.15" y="432.17" width="17.66" height="18.35" fill="#78b4d8"/>
<rect x="563.81" y="432.17" width="17.66" height="18.35" fill="#78b4d8"/>
<rect x="581.47" y="432.17" width="17.66" height="18.35" fill="#78b4d8"/>
<rect x="599.13" y="432.17" width="17.66" height="18.35" fill="#95c6e2"/>
<rect x="616.78" y="432.17" width="17.66" height="18.35" fill="#ddecf4"/>
<rect x="634.44" y="432.17" width="17.66" height="18.35" fill="#ddecf4"/>
<rect x="440.21" y="450.52" width="17.66" height="18.35" fill="#78b4d8"/>
<rect x="457.87" y="450.52" width="17.66" height="18.35" fill="#78b4d8"/>
<rect x="475.52" y="450.52" width="17.66" height="18.35" fill="#78b4d8"/>
<rect x="493.18" y="450.52" width="17.66" height="18.35" fill="#78b4d8"/>
<rect x="510.84" y="450.52" width="17.66" height="18.35" fill="#78b4d8"/>
<rect x="528.50" y="450.52" width="17.66" height="18.35" fill="#78b4d8"/>
<rect x="546.15" y="450.52" width="17.66" height="18.35" fill="#78b4d8"/>
<rect x="563.81" y="450.52" width="17.66" height="18.35" fill="#78b4d8"/>
<rect x="581.47" y="450.52" width="17.66" height="18.35" fill="#78b4d8"/>
<rect x="599.13" y="450.52" width="17.66" height="18.35" fill="#95c6e2"/>
<rect x="616.78" y="450.52" width="17.66" height="18.35" fill="#ddecf4"/>
<rect x="634.44" y="450.52" width="17.66" height="18.35" fill="#ddecf4"/>
<rect x="422.55" y="468.88" width="17.66" height="18.35" fill="#78b4d8"/>
<rect x="440.21" y="468.88" width="17.66" height="18.35" fill="#78b4d8"/>
<rect x="457.87" y="468.88" width="17.66" height="18.35" fill="#78b4d8"/>
<rect x="475.52" y="468.88" width="17.66" height="18.35" fill="#78b4d8"/>
<rect x="493.18" y="468.88" width="17.66" height="18.35" fill="#78b4d8"/>
<rect x="510.84" y="468.88" width="17.66" height="18.35" fill="#78b4d8"/>
<rect x="528.50" y="468.88" width="17.66" height="18.35" fill="#78b4d8"/>
<rect x="546.15" y="468.88" width="17.66" height="18.35" fill="#78b4d8"/>
<rect x="563.81" y="468.88" width="17.66" height="18.35" fill="#78b4d8"/>
<rect x="581.47" y="468.88" width="17.66" height="18.35" fill="#78b4d8"/>
<rect x="599.13" y="468.88" width="17.66" height="18.35" fill="#95c6e2"/>
<rect x="616.78" y="468.88" width="17.66" height="18.35" fill="#ddecf4"/>
<rect x="634.44" y="468.88" width="17.66" height="18.35" fill="#ddecf4"/>
<rect x="422.55" y="487.23" width="17.66" height="18.35" fill="#78b4d8"/>
<rect x="440.21" y="487.23" width="17.66" height="18.35" fill="#78b4d8"/>
<rect x="457.87" y="487.23" width="17.66" height="18.35" fill="#78b4d8"/>
<rect x="475.52" y="487.23" width="17.66" height="18.35" fill="#78b4d8"/>
<rect x="493.18" y="487.23" width="17.66" height="18.35" fill="#78b4d8"/>
<rect x="510.84" y="487.23" width="17.66" height="18.35" fill="#78b4d8"/>
<rect x="528.50" y="487.23" width="17.66" height="18.35" fill="#78b4d8"/>
<rect x="546.15" y="487.23" width="17.66" height="18.35" fill="#78b4d8"/>
<rect x="563.81" y="487.23" width="17.66" height="18.35" fill="#78b4d8"/>
<rect x="581.47" y="487.23" width="17.66" height="18.35" fill="#78b4d8"/>
<rect x="599.13" y="487.23" width="17.66" height="18.35" fill="#95c6e2"/>
<rect x="616.78" y="487.23" width="17.66" height="18.35" fill="#ddecf4"/>
<rect x="634.44" y="487.23" width="17.66" height="18.35" fill="#ddecf4"/>
<rect x="422.55" y="505.58" width="17.66" height="18.35" fill="#91c3e1"/>
<rect x="440.21" y="505.58" width="17.66" height="18.35" fill="#91c3e1"/>
<rect x="457.87" y="505.58" width="17.66" height="18.35" fill="#91c3e1"/>
<rect x="475.52" y="505.58" width="17.66" height="18.35" fill="#91c3e1"/>
<rect x="493.18" y="505.58" width="17.66" height="18.35" fill="#91c3e1"/>
<rect x="510.84" y="505.58" width="17.66" height="18.35" fill="#91c3e1"/>
<rect x="528.50" y="505.58" width="17.66" height="18.35" fill="#91c3e1"/>
<rect x="546.15" y="505.58" width="17.66" height="18.35" fill="#91c3e1"/>
<rect x="563.81" y="505.58" width="17.66" height="18.35" fill="#daebf3"/>
<rect x="581.47" y="505.58" width="17.66" height="18.35" fill="#daebf3"/>
<rect x="599.13" y="505.58" width="17.66" height="18.35" fill="#daebf3"/>
<rect x="616.78" y="505.58" width="17.66" height="18.35" fill="#daebf3"/>
<rect x="634.44" y="505.58" width="17.66" height="18.35" fill="#daebf3"/>
<rect x="422.55" y="523.94" width="17.66" height="18.35" fill="#91c3e1"/>
<rect x="440.21" y="523.94" width="17.66" height="18.35" fill="#91c3e1"/>
<rect x="457.87" y="523.94" width="17.66" height="18.35" fill="#91c3e1"/>
<rect x="475.52" y="523.94" width="17.66" height="18.35" fill="#91c3e1"/>
<rect x="493.18" y="523.94" width="17.66" height="18.35" fill="#91c3e1"/>
<rect x="510.84" y="523.94" width="17.66" height="18.35" fill="#91c3e1"/>
<rect x="528.50" y="523.94" width="17.66" height="18.35" fill="#91c3e1"/>
<rect x="546.15" y="523.94" width="17.66" height="18.35" fill="#91c3e1"/>
<rect x="563.81" y="523.94" width="17.66" height="18.35" fill="#daebf3"/>
<rect x="581.47" y="523.94" width="17.66" height="18.35" fill="#daebf3"/>
<rect x="599.13" y="523.94" width="17.66" height="18.35" fill="#daebf3"/>
<rect x="616.78" y="523.94" width="17.66" height="18.35" fill="#daebf3"/>
<rect x="634.44" y="523.94" width="17.66" height="18.35" fill="#daebf3"/>
<rect x="422.55" y="542.29" width="17.66" height="18.35" fill="#91c3e1"/>
<rect x="440.21" y="542.29" width="17.66" height="18.35" fill="#91c3e1"/>
<rect x="457.87" y="542.29" width="17.66" height="18.35" fill="#91c3e1"/>
<rect x="475.52" y="542.29" width="17.66" height="18.35" fill="#91c3e1"/>
<rect x="493.18" y="542.29" width="17.66" height="18.35" fill="#91c3e1"/>
<rect x="510.84" y="542.29" width="17.66" height="18.35" fill="#91c3e1"/>
<rect x="528.50" y="542.29" width="17.66" height="18.35" fill="#91c3e1"/>
<rect x="546.15" y="542.29" width="17.66" height="18.35" fill="#91c3e1"/>
<rect x="563.81" y="542.29" width="17.66" height="18.35" fill="#daebf3"/>
<rect x="581.47" y="542.29" width="17.66" height="18.35" fill="#daebf3"/>
<rect x="599.13" y="542.29" width="17.66" height="18.35" fill="#daebf3"/>
<rect x="616.78" y="542.29" width="17.66" height="18.35" fill="#daebf3"/>
<rect x="634.44" y="542.29" width="17.66" height="18.35" fill="#daebf3"/>
<rect x="422.55" y="560.65" width="17.66" height="18.35" fill="#91c3e1"/>
<rect x="440.21" y="560.65" width="17.66" height="18.35" fill="#91c3e1"/>
<rect x="457.87" y="560.65" width="17.66" height="18.35" fill="#91c3e1"/>
<rect x="475.52" y="560.65" width="17.66" height="18.35" fill="#91c3e1"/>
<rect x="493.18" y="560.65" width="17.66" height="18.35" fill="#91c3e1"/>
<rect x="510.84" y="560.65" width="17.66" height="18.35" fill="#91c3e1"/>
<rect x="528.50" y="560.65" width="17.66" height="18.35" fill="#91c3e1"/>
<rect x="546.15" y="560.65" width="17.66" height="18.35" fill="#91c3e1"/>
<rect x="563.81" y="560.65" width="17.66" height="18.35" fill="#daebf3"/>
<rect x="581.47" y="560.65" width="17.66" height="18.35" fill="#daebf3"/>
<rect x="599.13" y="560.65" width="17.66" height="18.35" fill="#daebf3"/>
<rect x="616.78" y="560.65" width="17.66" height="18.35" fill="#daebf3"/>
<rect x="634.44" y="560.65" width="17.66" height="18.35" fill="#daebf3"/>
<line x1="422.55" x2="422.55" y1="340.40" y2="579.00" stroke="rgba(38,38,38,0.55)" stroke-width="0.6"/>
<line x1="422.55" x2="652.10" y1="340.40" y2="340.40" stroke="rgba(38,38,38,0.55)" stroke-width="0.6"/>
<line x1="440.21" x2="440.21" y1="340.40" y2="579.00" stroke="rgba(38,38,38,0.55)" stroke-width="0.6"/>
<line x1="422.55" x2="652.10" y1="358.75" y2="358.75" stroke="rgba(38,38,38,0.55)" stroke-width="0.6"/>
<line x1="457.87" x2="457.87" y1="340.40" y2="579.00" stroke="rgba(38,38,38,0.55)" stroke-width="0.6"/>
<line x1="422.55" x2="652.10" y1="377.11" y2="377.11" stroke="rgba(38,38,38,0.55)" stroke-width="0.6"/>
<line x1="475.52" x2="475.52" y1="340.40" y2="579.00" stroke="rgba(38,38,38,0.55)" stroke-width="0.6"/>
<line x1="422.55" x2="652.10" y1="395.46" y2="395.46" stroke="rgba(38,38,38,0.55)" stroke-width="0.6"/>
<line x1="493.18" x2="493.18" y1="340.40" y2="579.00" stroke="rgba(38,38,38,0.55)" stroke-width="0.6"/>
<line x1="422.55" x2="652.10" y1="413.82" y2="413.82" stroke="rgba(38,38,38,0.55)" stroke-width="0.6"/>
<line x1="510.84" x2="510.84" y1="340.40" y2="579.00" stroke="rgba(38,38,38,0.55)" stroke-width="0.6"/>
<line x1="422.55" x2="652.10" y1="432.17" y2="432.17" stroke="rgba(38,38,38,0.55)" stroke-width="0.6"/>
<line x1="528.50" x2="528.50" y1="340.40" y2="579.00" stroke="rgba(38,38,38,0.55)" stroke-width="0.6"/>
<line x1="422.55" x2="652.10" y1="450.52" y2="450.52" stroke="rgba(38,38,38,0.55)" stroke-width="0.6"/>
<line x1="546.15" x2="546.15" y1="340.40" y2="579.00" stroke="rgba(38,38,38,0.55)" stroke-width="0.6"/>
<line x1="422.55" x2="652.10" y1="468.88" y2="468.88" stroke="rgba(38,38,38,0.55)" stroke-width="0.6"/>
<line x1="563.81" x2="563.81" y1="340.40" y2="579.00" stroke="rgba(38,38,38,0.55)" stroke-width="0.6"/>
<line x1="422.55" x2="652.10" y1="487.23" y2="487.23" stroke="rgba(38,38,38,0.55)" stroke-width="0.6"/>
<line x1="581.47" x2="581.47" y1="340.40" y2="579.00" stroke="rgba(38,38,38,0.55)" stroke-width="0.6"/>
<line x1="422.55" x2="652.10" y1="505.58" y2="505.58" stroke="rgba(38,38,38,0.55)" stroke-width="0.6"/>
<line x1="599.13" x2="599.13" y1="340.40" y2="579.00" stroke="rgba(38,38,38,0.55)" stroke-width="0.6"/>
<line x1="422.55" x2="652.10" y1="523.94" y2="523.94" stroke="rgba(38,38,38,0.55)" stroke-width="0.6"/>
<line x1="616.78" x2="616.78" y1="340.40" y2="579.00" stroke="rgba(38,38,38,0.55)" stroke-width="0.6"/>
<line x1="422.55" x2="652.10" y1="542.29" y2="542.29" stroke="rgba(38,38,38,0.55)" stroke-width="0.6"/>
<line x1="634.44" x2="634.44" y1="340.40" y2="579.00" stroke="rgba(38,38,38,0.55)" stroke-width="0.6"/>
<line x1="422.55" x2="652.10" y1="560.65" y2="560.65" stroke="rgba(38,38,38,0.55)" stroke-width="0.6"/>
<line x1="652.10" x2="652.10" y1="340.40" y2="579.00" stroke="rgba(38,38,38,0.42)" stroke-width="0.6"/>
<line x1="422.55" x2="652.10" y1="579.00" y2="579.00" stroke="rgba(38,38,38,0.42)" stroke-width="0.6"/>
<text transform="translate(519.67,352.78) scale(1,1.1)" font-size="7.04" fill="#1c1c1c" stroke="#1c1c1c" text-anchor="middle">16.8</text>
<text transform="translate(537.33,352.78) scale(1,1.1)" font-size="7.04" fill="#1c1c1c" stroke="#1c1c1c" text-anchor="middle">16.8</text>
<text transform="translate(554.98,352.78) scale(1,1.1)" font-size="7.04" fill="#1c1c1c" stroke="#1c1c1c" text-anchor="middle">23.8</text>
<text transform="translate(572.64,352.78) scale(1,1.1)" font-size="7.04" fill="#1c1c1c" stroke="#1c1c1c" text-anchor="middle">23.8</text>
<text transform="translate(590.30,352.78) scale(1,1.1)" font-size="7.04" fill="#1c1c1c" stroke="#1c1c1c" text-anchor="middle">23.8</text>
<text transform="translate(607.96,352.78) scale(1,1.1)" font-size="7.04" fill="#1c1c1c" stroke="#1c1c1c" text-anchor="middle">3.8</text>
<text transform="translate(625.61,352.78) scale(1,1.1)" font-size="7.04" fill="#1c1c1c" stroke="#1c1c1c" text-anchor="middle">3.8</text>
<text transform="translate(643.27,352.78) scale(1,1.1)" font-size="7.04" fill="#1c1c1c" stroke="#1c1c1c" text-anchor="middle">3.8</text>
<text transform="translate(502.01,371.13) scale(1,1.1)" font-size="7.04" fill="#1c1c1c" stroke="#1c1c1c" text-anchor="middle">25.8</text>
<text transform="translate(519.67,371.13) scale(1,1.1)" font-size="7.04" fill="#1c1c1c" stroke="#1c1c1c" text-anchor="middle">25.8</text>
<text transform="translate(537.33,371.13) scale(1,1.1)" font-size="7.04" fill="#1c1c1c" stroke="#1c1c1c" text-anchor="middle">25.8</text>
<text transform="translate(554.98,371.13) scale(1,1.1)" font-size="7.04" fill="#1c1c1c" stroke="#1c1c1c" text-anchor="middle">25.8</text>
<text transform="translate(572.64,371.13) scale(1,1.1)" font-size="7.04" fill="#1c1c1c" stroke="#1c1c1c" text-anchor="middle">25.8</text>
<text transform="translate(590.30,371.13) scale(1,1.1)" font-size="7.04" fill="#1c1c1c" stroke="#1c1c1c" text-anchor="middle">25.8</text>
<text transform="translate(607.96,371.13) scale(1,1.1)" font-size="7.04" fill="#1c1c1c" stroke="#1c1c1c" text-anchor="middle">5.8</text>
<text transform="translate(625.61,371.13) scale(1,1.1)" font-size="7.04" fill="#1c1c1c" stroke="#1c1c1c" text-anchor="middle">5.8</text>
<text transform="translate(643.27,371.13) scale(1,1.1)" font-size="7.04" fill="#1c1c1c" stroke="#1c1c1c" text-anchor="middle">5.8</text>
<text transform="translate(502.01,389.48) scale(1,1.1)" font-size="7.04" fill="#1c1c1c" stroke="#1c1c1c" text-anchor="middle">25.8</text>
<text transform="translate(519.67,389.48) scale(1,1.1)" font-size="7.04" fill="#1c1c1c" stroke="#1c1c1c" text-anchor="middle">25.8</text>
<text transform="translate(537.33,389.48) scale(1,1.1)" font-size="7.04" fill="#1c1c1c" stroke="#1c1c1c" text-anchor="middle">25.8</text>
<text transform="translate(554.98,389.48) scale(1,1.1)" font-size="7.04" fill="#1c1c1c" stroke="#1c1c1c" text-anchor="middle">25.8</text>
<text transform="translate(572.64,389.48) scale(1,1.1)" font-size="7.04" fill="#1c1c1c" stroke="#1c1c1c" text-anchor="middle">25.8</text>
<text transform="translate(590.30,389.48) scale(1,1.1)" font-size="7.04" fill="#1c1c1c" stroke="#1c1c1c" text-anchor="middle">25.8</text>
<text transform="translate(607.96,389.48) scale(1,1.1)" font-size="7.04" fill="#1c1c1c" stroke="#1c1c1c" text-anchor="middle">5.8</text>
<text transform="translate(625.61,389.48) scale(1,1.1)" font-size="7.04" fill="#1c1c1c" stroke="#1c1c1c" text-anchor="middle">5.8</text>
<text transform="translate(643.27,389.48) scale(1,1.1)" font-size="7.04" fill="#1c1c1c" stroke="#1c1c1c" text-anchor="middle">5.8</text>
<text transform="translate(484.35,407.84) scale(1,1.1)" font-size="7.04" fill="#1c1c1c" stroke="#1c1c1c" text-anchor="middle">25.8</text>
<text transform="translate(502.01,407.84) scale(1,1.1)" font-size="7.04" fill="#1c1c1c" stroke="#1c1c1c" text-anchor="middle">25.8</text>
<text transform="translate(519.67,407.84) scale(1,1.1)" font-size="7.04" fill="#1c1c1c" stroke="#1c1c1c" text-anchor="middle">25.8</text>
<text transform="translate(537.33,407.84) scale(1,1.1)" font-size="7.04" fill="#1c1c1c" stroke="#1c1c1c" text-anchor="middle">25.8</text>
<text transform="translate(554.98,407.84) scale(1,1.1)" font-size="7.04" fill="#1c1c1c" stroke="#1c1c1c" text-anchor="middle">25.8</text>
<text transform="translate(572.64,407.84) scale(1,1.1)" font-size="7.04" fill="#1c1c1c" stroke="#1c1c1c" text-anchor="middle">25.8</text>
<text transform="translate(590.30,407.84) scale(1,1.1)" font-size="7.04" fill="#1c1c1c" stroke="#1c1c1c" text-anchor="middle">25.8</text>
<text transform="translate(607.96,407.84) scale(1,1.1)" font-size="7.04" fill="#1c1c1c" stroke="#1c1c1c" text-anchor="middle">5.8</text>
<text transform="translate(625.61,407.84) scale(1,1.1)" font-size="7.04" fill="#1c1c1c" stroke="#1c1c1c" text-anchor="middle">5.8</text>
<text transform="translate(643.27,407.84) scale(1,1.1)" font-size="7.04" fill="#1c1c1c" stroke="#1c1c1c" text-anchor="middle">5.8</text>
<text transform="translate(466.69,426.19) scale(1,1.1)" font-size="7.04" fill="#1c1c1c" stroke="#1c1c1c" text-anchor="middle">25.8</text>
<text transform="translate(484.35,426.19) scale(1,1.1)" font-size="7.04" fill="#1c1c1c" stroke="#1c1c1c" text-anchor="middle">25.8</text>
<text transform="translate(502.01,426.19) scale(1,1.1)" font-size="7.04" fill="#1c1c1c" stroke="#1c1c1c" text-anchor="middle">25.8</text>
<text transform="translate(519.67,426.19) scale(1,1.1)" font-size="7.04" fill="#1c1c1c" stroke="#1c1c1c" text-anchor="middle">25.8</text>
<text transform="translate(537.33,426.19) scale(1,1.1)" font-size="7.04" fill="#1c1c1c" stroke="#1c1c1c" text-anchor="middle">25.8</text>
<text transform="translate(554.98,426.19) scale(1,1.1)" font-size="7.04" fill="#1c1c1c" stroke="#1c1c1c" text-anchor="middle">25.8</text>
<text transform="translate(572.64,426.19) scale(1,1.1)" font-size="7.04" fill="#1c1c1c" stroke="#1c1c1c" text-anchor="middle">25.8</text>
<text transform="translate(590.30,426.19) scale(1,1.1)" font-size="7.04" fill="#1c1c1c" stroke="#1c1c1c" text-anchor="middle">25.8</text>
<text transform="translate(607.96,426.19) scale(1,1.1)" font-size="7.04" fill="#1c1c1c" stroke="#1c1c1c" text-anchor="middle">5.8</text>
<text transform="translate(625.61,426.19) scale(1,1.1)" font-size="7.04" fill="#1c1c1c" stroke="#1c1c1c" text-anchor="middle">5.8</text>
<text transform="translate(643.27,426.19) scale(1,1.1)" font-size="7.04" fill="#1c1c1c" stroke="#1c1c1c" text-anchor="middle">5.8</text>
<text transform="translate(449.04,444.55) scale(1,1.1)" font-size="7.04" fill="#1c1c1c" stroke="#1c1c1c" text-anchor="middle">79.1</text>
<text transform="translate(466.69,444.55) scale(1,1.1)" font-size="7.04" fill="#1c1c1c" stroke="#1c1c1c" text-anchor="middle">79.1</text>
<text transform="translate(484.35,444.55) scale(1,1.1)" font-size="7.04" fill="#1c1c1c" stroke="#1c1c1c" text-anchor="middle">79.1</text>
<text transform="translate(502.01,444.55) scale(1,1.1)" font-size="7.04" fill="#1c1c1c" stroke="#1c1c1c" text-anchor="middle">79.1</text>
<text transform="translate(519.67,444.55) scale(1,1.1)" font-size="7.04" fill="#1c1c1c" stroke="#1c1c1c" text-anchor="middle">79.1</text>
<text transform="translate(537.33,444.55) scale(1,1.1)" font-size="7.04" fill="#1c1c1c" stroke="#1c1c1c" text-anchor="middle">79.1</text>
<text transform="translate(554.98,444.55) scale(1,1.1)" font-size="7.04" fill="#1c1c1c" stroke="#1c1c1c" text-anchor="middle">79.1</text>
<text transform="translate(572.64,444.55) scale(1,1.1)" font-size="7.04" fill="#1c1c1c" stroke="#1c1c1c" text-anchor="middle">79.1</text>
<text transform="translate(590.30,444.55) scale(1,1.1)" font-size="7.04" fill="#1c1c1c" stroke="#1c1c1c" text-anchor="middle">79.1</text>
<text transform="translate(607.96,444.55) scale(1,1.1)" font-size="7.04" fill="#1c1c1c" stroke="#1c1c1c" text-anchor="middle">56.7</text>
<text transform="translate(625.61,444.55) scale(1,1.1)" font-size="7.04" fill="#1c1c1c" stroke="#1c1c1c" text-anchor="middle">7.4</text>
<text transform="translate(643.27,444.55) scale(1,1.1)" font-size="7.04" fill="#1c1c1c" stroke="#1c1c1c" text-anchor="middle">7.4</text>
<text transform="translate(449.04,462.90) scale(1,1.1)" font-size="7.04" fill="#1c1c1c" stroke="#1c1c1c" text-anchor="middle">79.1</text>
<text transform="translate(466.69,462.90) scale(1,1.1)" font-size="7.04" fill="#1c1c1c" stroke="#1c1c1c" text-anchor="middle">79.1</text>
<text transform="translate(484.35,462.90) scale(1,1.1)" font-size="7.04" fill="#1c1c1c" stroke="#1c1c1c" text-anchor="middle">79.1</text>
<text transform="translate(502.01,462.90) scale(1,1.1)" font-size="7.04" fill="#1c1c1c" stroke="#1c1c1c" text-anchor="middle">79.1</text>
<text transform="translate(519.67,462.90) scale(1,1.1)" font-size="7.04" fill="#1c1c1c" stroke="#1c1c1c" text-anchor="middle">79.1</text>
<text transform="translate(537.33,462.90) scale(1,1.1)" font-size="7.04" fill="#1c1c1c" stroke="#1c1c1c" text-anchor="middle">79.1</text>
<text transform="translate(554.98,462.90) scale(1,1.1)" font-size="7.04" fill="#1c1c1c" stroke="#1c1c1c" text-anchor="middle">79.1</text>
<text transform="translate(572.64,462.90) scale(1,1.1)" font-size="7.04" fill="#1c1c1c" stroke="#1c1c1c" text-anchor="middle">79.1</text>
<text transform="translate(590.30,462.90) scale(1,1.1)" font-size="7.04" fill="#1c1c1c" stroke="#1c1c1c" text-anchor="middle">79.1</text>
<text transform="translate(607.96,462.90) scale(1,1.1)" font-size="7.04" fill="#1c1c1c" stroke="#1c1c1c" text-anchor="middle">56.7</text>
<text transform="translate(625.61,462.90) scale(1,1.1)" font-size="7.04" fill="#1c1c1c" stroke="#1c1c1c" text-anchor="middle">7.4</text>
<text transform="translate(643.27,462.90) scale(1,1.1)" font-size="7.04" fill="#1c1c1c" stroke="#1c1c1c" text-anchor="middle">7.4</text>
<text transform="translate(431.38,481.25) scale(1,1.1)" font-size="7.04" fill="#1c1c1c" stroke="#1c1c1c" text-anchor="middle">79.1</text>
<text transform="translate(449.04,481.25) scale(1,1.1)" font-size="7.04" fill="#1c1c1c" stroke="#1c1c1c" text-anchor="middle">79.1</text>
<text transform="translate(466.69,481.25) scale(1,1.1)" font-size="7.04" fill="#1c1c1c" stroke="#1c1c1c" text-anchor="middle">79.1</text>
<text transform="translate(484.35,481.25) scale(1,1.1)" font-size="7.04" fill="#1c1c1c" stroke="#1c1c1c" text-anchor="middle">79.1</text>
<text transform="translate(502.01,481.25) scale(1,1.1)" font-size="7.04" fill="#1c1c1c" stroke="#1c1c1c" text-anchor="middle">79.1</text>
<text transform="translate(519.67,481.25) scale(1,1.1)" font-size="7.04" fill="#1c1c1c" stroke="#1c1c1c" text-anchor="middle">79.1</text>
<text transform="translate(537.33,481.25) scale(1,1.1)" font-size="7.04" fill="#1c1c1c" stroke="#1c1c1c" text-anchor="middle">79.1</text>
<text transform="translate(554.98,481.25) scale(1,1.1)" font-size="7.04" fill="#1c1c1c" stroke="#1c1c1c" text-anchor="middle">79.1</text>
<text transform="translate(572.64,481.25) scale(1,1.1)" font-size="7.04" fill="#1c1c1c" stroke="#1c1c1c" text-anchor="middle">79.1</text>
<text transform="translate(590.30,481.25) scale(1,1.1)" font-size="7.04" fill="#1c1c1c" stroke="#1c1c1c" text-anchor="middle">79.1</text>
<text transform="translate(607.96,481.25) scale(1,1.1)" font-size="7.04" fill="#1c1c1c" stroke="#1c1c1c" text-anchor="middle">56.7</text>
<text transform="translate(625.61,481.25) scale(1,1.1)" font-size="7.04" fill="#1c1c1c" stroke="#1c1c1c" text-anchor="middle">7.4</text>
<text transform="translate(643.27,481.25) scale(1,1.1)" font-size="7.04" fill="#1c1c1c" stroke="#1c1c1c" text-anchor="middle">7.4</text>
<text transform="translate(431.38,499.61) scale(1,1.1)" font-size="7.04" fill="#1c1c1c" stroke="#1c1c1c" text-anchor="middle">79.1</text>
<text transform="translate(449.04,499.61) scale(1,1.1)" font-size="7.04" fill="#1c1c1c" stroke="#1c1c1c" text-anchor="middle">79.1</text>
<text transform="translate(466.69,499.61) scale(1,1.1)" font-size="7.04" fill="#1c1c1c" stroke="#1c1c1c" text-anchor="middle">79.1</text>
<text transform="translate(484.35,499.61) scale(1,1.1)" font-size="7.04" fill="#1c1c1c" stroke="#1c1c1c" text-anchor="middle">79.1</text>
<text transform="translate(502.01,499.61) scale(1,1.1)" font-size="7.04" fill="#1c1c1c" stroke="#1c1c1c" text-anchor="middle">79.1</text>
<text transform="translate(519.67,499.61) scale(1,1.1)" font-size="7.04" fill="#1c1c1c" stroke="#1c1c1c" text-anchor="middle">79.1</text>
<text transform="translate(537.33,499.61) scale(1,1.1)" font-size="7.04" fill="#1c1c1c" stroke="#1c1c1c" text-anchor="middle">79.1</text>
<text transform="translate(554.98,499.61) scale(1,1.1)" font-size="7.04" fill="#1c1c1c" stroke="#1c1c1c" text-anchor="middle">79.1</text>
<text transform="translate(572.64,499.61) scale(1,1.1)" font-size="7.04" fill="#1c1c1c" stroke="#1c1c1c" text-anchor="middle">79.1</text>
<text transform="translate(590.30,499.61) scale(1,1.1)" font-size="7.04" fill="#1c1c1c" stroke="#1c1c1c" text-anchor="middle">79.1</text>
<text transform="translate(607.96,499.61) scale(1,1.1)" font-size="7.04" fill="#1c1c1c" stroke="#1c1c1c" text-anchor="middle">56.7</text>
<text transform="translate(625.61,499.61) scale(1,1.1)" font-size="7.04" fill="#1c1c1c" stroke="#1c1c1c" text-anchor="middle">7.4</text>
<text transform="translate(643.27,499.61) scale(1,1.1)" font-size="7.04" fill="#1c1c1c" stroke="#1c1c1c" text-anchor="middle">7.4</text>
<text transform="translate(431.38,517.96) scale(1,1.1)" font-size="7.04" fill="#1c1c1c" stroke="#1c1c1c" text-anchor="middle">59.8</text>
<text transform="translate(449.04,517.96) scale(1,1.1)" font-size="7.04" fill="#1c1c1c" stroke="#1c1c1c" text-anchor="middle">59.8</text>
<text transform="translate(466.69,517.96) scale(1,1.1)" font-size="7.04" fill="#1c1c1c" stroke="#1c1c1c" text-anchor="middle">59.8</text>
<text transform="translate(484.35,517.96) scale(1,1.1)" font-size="7.04" fill="#1c1c1c" stroke="#1c1c1c" text-anchor="middle">59.8</text>
<text transform="translate(502.01,517.96) scale(1,1.1)" font-size="7.04" fill="#1c1c1c" stroke="#1c1c1c" text-anchor="middle">59.8</text>
<text transform="translate(519.67,517.96) scale(1,1.1)" font-size="7.04" fill="#1c1c1c" stroke="#1c1c1c" text-anchor="middle">59.8</text>
<text transform="translate(537.33,517.96) scale(1,1.1)" font-size="7.04" fill="#1c1c1c" stroke="#1c1c1c" text-anchor="middle">59.8</text>
<text transform="translate(554.98,517.96) scale(1,1.1)" font-size="7.04" fill="#1c1c1c" stroke="#1c1c1c" text-anchor="middle">59.8</text>
<text transform="translate(572.64,517.96) scale(1,1.1)" font-size="7.04" fill="#1c1c1c" stroke="#1c1c1c" text-anchor="middle">9</text>
<text transform="translate(590.30,517.96) scale(1,1.1)" font-size="7.04" fill="#1c1c1c" stroke="#1c1c1c" text-anchor="middle">9</text>
<text transform="translate(607.96,517.96) scale(1,1.1)" font-size="7.04" fill="#1c1c1c" stroke="#1c1c1c" text-anchor="middle">9</text>
<text transform="translate(625.61,517.96) scale(1,1.1)" font-size="7.04" fill="#1c1c1c" stroke="#1c1c1c" text-anchor="middle">9</text>
<text transform="translate(643.27,517.96) scale(1,1.1)" font-size="7.04" fill="#1c1c1c" stroke="#1c1c1c" text-anchor="middle">9</text>
<text transform="translate(431.38,536.32) scale(1,1.1)" font-size="7.04" fill="#1c1c1c" stroke="#1c1c1c" text-anchor="middle">59.8</text>
<text transform="translate(449.04,536.32) scale(1,1.1)" font-size="7.04" fill="#1c1c1c" stroke="#1c1c1c" text-anchor="middle">59.8</text>
<text transform="translate(466.69,536.32) scale(1,1.1)" font-size="7.04" fill="#1c1c1c" stroke="#1c1c1c" text-anchor="middle">59.8</text>
<text transform="translate(484.35,536.32) scale(1,1.1)" font-size="7.04" fill="#1c1c1c" stroke="#1c1c1c" text-anchor="middle">59.8</text>
<text transform="translate(502.01,536.32) scale(1,1.1)" font-size="7.04" fill="#1c1c1c" stroke="#1c1c1c" text-anchor="middle">59.8</text>
<text transform="translate(519.67,536.32) scale(1,1.1)" font-size="7.04" fill="#1c1c1c" stroke="#1c1c1c" text-anchor="middle">59.8</text>
<text transform="translate(537.33,536.32) scale(1,1.1)" font-size="7.04" fill="#1c1c1c" stroke="#1c1c1c" text-anchor="middle">59.8</text>
<text transform="translate(554.98,536.32) scale(1,1.1)" font-size="7.04" fill="#1c1c1c" stroke="#1c1c1c" text-anchor="middle">59.8</text>
<text transform="translate(572.64,536.32) scale(1,1.1)" font-size="7.04" fill="#1c1c1c" stroke="#1c1c1c" text-anchor="middle">9</text>
<text transform="translate(590.30,536.32) scale(1,1.1)" font-size="7.04" fill="#1c1c1c" stroke="#1c1c1c" text-anchor="middle">9</text>
<text transform="translate(607.96,536.32) scale(1,1.1)" font-size="7.04" fill="#1c1c1c" stroke="#1c1c1c" text-anchor="middle">9</text>
<text transform="translate(625.61,536.32) scale(1,1.1)" font-size="7.04" fill="#1c1c1c" stroke="#1c1c1c" text-anchor="middle">9</text>
<text transform="translate(643.27,536.32) scale(1,1.1)" font-size="7.04" fill="#1c1c1c" stroke="#1c1c1c" text-anchor="middle">9</text>
<text transform="translate(431.38,554.67) scale(1,1.1)" font-size="7.04" fill="#1c1c1c" stroke="#1c1c1c" text-anchor="middle">59.8</text>
<text transform="translate(449.04,554.67) scale(1,1.1)" font-size="7.04" fill="#1c1c1c" stroke="#1c1c1c" text-anchor="middle">59.8</text>
<text transform="translate(466.69,554.67) scale(1,1.1)" font-size="7.04" fill="#1c1c1c" stroke="#1c1c1c" text-anchor="middle">59.8</text>
<text transform="translate(484.35,554.67) scale(1,1.1)" font-size="7.04" fill="#1c1c1c" stroke="#1c1c1c" text-anchor="middle">59.8</text>
<text transform="translate(502.01,554.67) scale(1,1.1)" font-size="7.04" fill="#1c1c1c" stroke="#1c1c1c" text-anchor="middle">59.8</text>
<text transform="translate(519.67,554.67) scale(1,1.1)" font-size="7.04" fill="#1c1c1c" stroke="#1c1c1c" text-anchor="middle">59.8</text>
<text transform="translate(537.33,554.67) scale(1,1.1)" font-size="7.04" fill="#1c1c1c" stroke="#1c1c1c" text-anchor="middle">59.8</text>
<text transform="translate(554.98,554.67) scale(1,1.1)" font-size="7.04" fill="#1c1c1c" stroke="#1c1c1c" text-anchor="middle">59.8</text>
<text transform="translate(572.64,554.67) scale(1,1.1)" font-size="7.04" fill="#1c1c1c" stroke="#1c1c1c" text-anchor="middle">9</text>
<text transform="translate(590.30,554.67) scale(1,1.1)" font-size="7.04" fill="#1c1c1c" stroke="#1c1c1c" text-anchor="middle">9</text>
<text transform="translate(607.96,554.67) scale(1,1.1)" font-size="7.04" fill="#1c1c1c" stroke="#1c1c1c" text-anchor="middle">9</text>
<text transform="translate(625.61,554.67) scale(1,1.1)" font-size="7.04" fill="#1c1c1c" stroke="#1c1c1c" text-anchor="middle">9</text>
<text transform="translate(643.27,554.67) scale(1,1.1)" font-size="7.04" fill="#1c1c1c" stroke="#1c1c1c" text-anchor="middle">9</text>
<text transform="translate(431.38,573.02) scale(1,1.1)" font-size="7.04" fill="#1c1c1c" stroke="#1c1c1c" text-anchor="middle">59.8</text>
<text transform="translate(449.04,573.02) scale(1,1.1)" font-size="7.04" fill="#1c1c1c" stroke="#1c1c1c" text-anchor="middle">59.8</text>
<text transform="translate(466.69,573.02) scale(1,1.1)" font-size="7.04" fill="#1c1c1c" stroke="#1c1c1c" text-anchor="middle">59.8</text>
<text transform="translate(484.35,573.02) scale(1,1.1)" font-size="7.04" fill="#1c1c1c" stroke="#1c1c1c" text-anchor="middle">59.8</text>
<text transform="translate(502.01,573.02) scale(1,1.1)" font-size="7.04" fill="#1c1c1c" stroke="#1c1c1c" text-anchor="middle">59.8</text>
<text transform="translate(519.67,573.02) scale(1,1.1)" font-size="7.04" fill="#1c1c1c" stroke="#1c1c1c" text-anchor="middle">59.8</text>
<text transform="translate(537.33,573.02) scale(1,1.1)" font-size="7.04" fill="#1c1c1c" stroke="#1c1c1c" text-anchor="middle">59.8</text>
<text transform="translate(554.98,573.02) scale(1,1.1)" font-size="7.04" fill="#1c1c1c" stroke="#1c1c1c" text-anchor="middle">59.8</text>
<text transform="translate(572.64,573.02) scale(1,1.1)" font-size="7.04" fill="#1c1c1c" stroke="#1c1c1c" text-anchor="middle">9</text>
<text transform="translate(590.30,573.02) scale(1,1.1)" font-size="7.04" fill="#1c1c1c" stroke="#1c1c1c" text-anchor="middle">9</text>
<text transform="translate(607.96,573.02) scale(1,1.1)" font-size="7.04" fill="#1c1c1c" stroke="#1c1c1c" text-anchor="middle">9</text>
<text transform="translate(625.61,573.02) scale(1,1.1)" font-size="7.04" fill="#1c1c1c" stroke="#1c1c1c" text-anchor="middle">9</text>
<text transform="translate(643.27,573.02) scale(1,1.1)" font-size="7.04" fill="#1c1c1c" stroke="#1c1c1c" text-anchor="middle">9</text>
<text transform="translate(419.75,352.78) scale(1,1.1)" font-size="7.19" fill="#262626" stroke="#262626" text-anchor="end">45.00</text>
<text transform="translate(419.75,371.13) scale(1,1.1)" font-size="7.19" fill="#262626" stroke="#262626" text-anchor="end">41.67</text>
<text transform="translate(419.75,389.48) scale(1,1.1)" font-size="7.19" fill="#262626" stroke="#262626" text-anchor="end">38.33</text>
<text transform="translate(419.75,407.84) scale(1,1.1)" font-size="7.19" fill="#262626" stroke="#262626" text-anchor="end">35.00</text>
<text transform="translate(419.75,426.19) scale(1,1.1)" font-size="7.19" fill="#262626" stroke="#262626" text-anchor="end">31.67</text>
<text transform="translate(419.75,444.55) scale(1,1.1)" font-size="7.19" fill="#262626" stroke="#262626" text-anchor="end">28.33</text>
<text transform="translate(419.75,462.90) scale(1,1.1)" font-size="7.19" fill="#262626" stroke="#262626" text-anchor="end">25.00</text>
<text transform="translate(419.75,481.25) scale(1,1.1)" font-size="7.19" fill="#262626" stroke="#262626" text-anchor="end">21.67</text>
<text transform="translate(419.75,499.61) scale(1,1.1)" font-size="7.19" fill="#262626" stroke="#262626" text-anchor="end">18.33</text>
<text transform="translate(419.75,517.96) scale(1,1.1)" font-size="7.19" fill="#262626" stroke="#262626" text-anchor="end">15.00</text>
<text transform="translate(419.75,536.32) scale(1,1.1)" font-size="7.19" fill="#262626" stroke="#262626" text-anchor="end">11.67</text>
<text transform="translate(419.75,554.67) scale(1,1.1)" font-size="7.19" fill="#262626" stroke="#262626" text-anchor="end">8.33</text>
<text transform="translate(419.75,573.02) scale(1,1.1)" font-size="7.19" fill="#262626" stroke="#262626" text-anchor="end">5.00</text>
<text transform="translate(434.68,585.50) rotate(-45) scale(1,1.1)" font-size="7.19" fill="#262626" stroke="#262626" text-anchor="end" dominant-baseline="auto" dy="2.5">25.00</text>
<text transform="translate(452.34,585.50) rotate(-45) scale(1,1.1)" font-size="7.19" fill="#262626" stroke="#262626" text-anchor="end" dominant-baseline="auto" dy="2.5">29.17</text>
<text transform="translate(469.99,585.50) rotate(-45) scale(1,1.1)" font-size="7.19" fill="#262626" stroke="#262626" text-anchor="end" dominant-baseline="auto" dy="2.5">33.33</text>
<text transform="translate(487.65,585.50) rotate(-45) scale(1,1.1)" font-size="7.19" fill="#262626" stroke="#262626" text-anchor="end" dominant-baseline="auto" dy="2.5">37.50</text>
<text transform="translate(505.31,585.50) rotate(-45) scale(1,1.1)" font-size="7.19" fill="#262626" stroke="#262626" text-anchor="end" dominant-baseline="auto" dy="2.5">41.67</text>
<text transform="translate(522.97,585.50) rotate(-45) scale(1,1.1)" font-size="7.19" fill="#262626" stroke="#262626" text-anchor="end" dominant-baseline="auto" dy="2.5">45.83</text>
<text transform="translate(540.62,585.50) rotate(-45) scale(1,1.1)" font-size="7.19" fill="#262626" stroke="#262626" text-anchor="end" dominant-baseline="auto" dy="2.5">50.00</text>
<text transform="translate(558.28,585.50) rotate(-45) scale(1,1.1)" font-size="7.19" fill="#262626" stroke="#262626" text-anchor="end" dominant-baseline="auto" dy="2.5">54.17</text>
<text transform="translate(575.94,585.50) rotate(-45) scale(1,1.1)" font-size="7.19" fill="#262626" stroke="#262626" text-anchor="end" dominant-baseline="auto" dy="2.5">58.33</text>
<text transform="translate(593.60,585.50) rotate(-45) scale(1,1.1)" font-size="7.19" fill="#262626" stroke="#262626" text-anchor="end" dominant-baseline="auto" dy="2.5">62.50</text>
<text transform="translate(611.26,585.50) rotate(-45) scale(1,1.1)" font-size="7.19" fill="#262626" stroke="#262626" text-anchor="end" dominant-baseline="auto" dy="2.5">66.67</text>
<text transform="translate(628.91,585.50) rotate(-45) scale(1,1.1)" font-size="7.19" fill="#262626" stroke="#262626" text-anchor="end" dominant-baseline="auto" dy="2.5">70.83</text>
<text transform="translate(646.57,585.50) rotate(-45) scale(1,1.1)" font-size="7.19" fill="#262626" stroke="#262626" text-anchor="end" dominant-baseline="auto" dy="2.5">75.00</text>
<text x="537.33" y="609.50" font-size="8.12" fill="#1c1c1c" stroke="#1c1c1c" text-anchor="middle">Upper size bound: Rx<tspan font-size="7.14" dy="4.6">on</tspan></text>
<text transform="translate(394.60,459.70) rotate(-90)" font-size="8.12" fill="#1c1c1c" stroke="#1c1c1c" text-anchor="middle">Lower size bound: Rx<tspan font-size="7.14" dy="4.6">off</tspan></text>
<rect x="656.10" y="340.40" width="8.10" height="226.00" fill="url(#cb)" stroke="rgba(38,38,38,0.55)" stroke-width="0.5"/>
<rect x="656.10" y="571.60" width="8.10" height="7.40" fill="#262626"/>
<line x1="662.30" x2="664.20" y1="566.40" y2="566.40" stroke="rgba(38,38,38,0.8)" stroke-width="0.55"/>
<text x="667.10" y="569.10" font-size="6.36" fill="#1c1c1c" stroke="#1c1c1c">0</text>
<line x1="662.30" x2="664.20" y1="491.07" y2="491.07" stroke="rgba(38,38,38,0.8)" stroke-width="0.55"/>
<text x="667.10" y="493.77" font-size="6.36" fill="#1c1c1c" stroke="#1c1c1c">50</text>
<line x1="662.30" x2="664.20" y1="415.73" y2="415.73" stroke="rgba(38,38,38,0.8)" stroke-width="0.55"/>
<text x="667.10" y="418.43" font-size="6.36" fill="#1c1c1c" stroke="#1c1c1c">100</text>
<line x1="662.30" x2="664.20" y1="340.40" y2="340.40" stroke="rgba(38,38,38,0.8)" stroke-width="0.55"/>
<text x="667.10" y="343.10" font-size="6.36" fill="#1c1c1c" stroke="#1c1c1c">150</text>
<text x="667.10" y="578.10" font-size="6.36" fill="#1c1c1c" stroke="#1c1c1c">NaN</text>
</svg>
</body></html>
